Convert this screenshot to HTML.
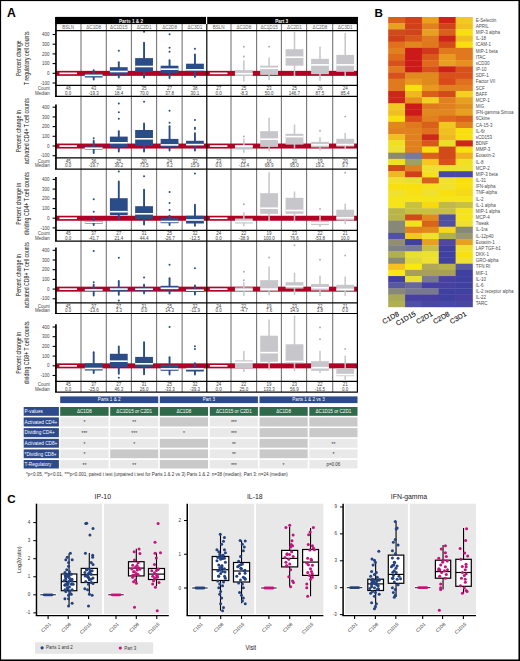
<!DOCTYPE html>
<html><head><meta charset="utf-8"><title>Figure</title>
<style>html,body{margin:0;padding:0;background:#fff;width:520px;height:661px;overflow:hidden}svg{display:block}</style>
</head><body>
<svg width="520" height="661" viewBox="0 0 520 661" font-family='"Liberation Sans", sans-serif'>
<rect x="0" y="0" width="520" height="661" fill="#fff" />
<text x="7" y="17.3" font-size="12.2" fill="#000" text-anchor="start" font-weight="bold" >A</text>
<text x="374.6" y="17.1" font-size="11.6" fill="#000" text-anchor="start" font-weight="bold" >B</text>
<text x="7.2" y="503.4" font-size="11.6" fill="#000" text-anchor="start" font-weight="bold" >C</text>
<rect x="55.5" y="16.9" width="150.5" height="7.2" fill="#000" />
<rect x="207.2" y="16.9" width="150.4" height="7.2" fill="#000" />
<text x="131" y="22.8" font-size="4.7" fill="#f4f4f4" text-anchor="middle" font-weight="bold" >Parts 1 &amp; 2</text>
<text x="281.7" y="22.8" font-size="4.7" fill="#f4f4f4" text-anchor="middle" font-weight="bold" >Part 3</text>
<text x="68.2" y="29" font-size="4.6" fill="#666" text-anchor="middle" font-weight="normal" >BSLN</text>
<text x="218.65" y="29" font-size="4.6" fill="#666" text-anchor="middle" font-weight="normal" >BSLN</text>
<text x="93.7" y="29" font-size="4.6" fill="#666" text-anchor="middle" font-weight="normal" >ΔC1D8</text>
<text x="243.85" y="29" font-size="4.6" fill="#666" text-anchor="middle" font-weight="normal" >ΔC1D8</text>
<text x="118.8" y="29" font-size="4.6" fill="#666" text-anchor="middle" font-weight="normal" >ΔC1D15</text>
<text x="269.1" y="29" font-size="4.6" fill="#666" text-anchor="middle" font-weight="normal" >ΔC1D15</text>
<text x="144.05" y="29" font-size="4.6" fill="#666" text-anchor="middle" font-weight="normal" >ΔC2D1</text>
<text x="294.5" y="29" font-size="4.6" fill="#666" text-anchor="middle" font-weight="normal" >ΔC2D1</text>
<text x="169.55" y="29" font-size="4.6" fill="#666" text-anchor="middle" font-weight="normal" >ΔC2D8</text>
<text x="320" y="29" font-size="4.6" fill="#666" text-anchor="middle" font-weight="normal" >ΔC2D8</text>
<text x="194.95" y="29" font-size="4.6" fill="#666" text-anchor="middle" font-weight="normal" >ΔC3D1</text>
<text x="345.2" y="29" font-size="4.6" fill="#666" text-anchor="middle" font-weight="normal" >ΔC3D1</text>
<line x1="81" y1="24.1" x2="81" y2="392.1" stroke="#767676" stroke-width="1.1" />
<line x1="106.3" y1="24.1" x2="106.3" y2="392.1" stroke="#767676" stroke-width="1.1" />
<line x1="131.4" y1="24.1" x2="131.4" y2="392.1" stroke="#767676" stroke-width="1.1" />
<line x1="156.6" y1="24.1" x2="156.6" y2="392.1" stroke="#767676" stroke-width="1.1" />
<line x1="182.15" y1="24.1" x2="182.15" y2="392.1" stroke="#767676" stroke-width="1.1" />
<line x1="231" y1="24.1" x2="231" y2="392.1" stroke="#767676" stroke-width="1.1" />
<line x1="256.6" y1="24.1" x2="256.6" y2="392.1" stroke="#767676" stroke-width="1.1" />
<line x1="281.4" y1="24.1" x2="281.4" y2="392.1" stroke="#767676" stroke-width="1.1" />
<line x1="306.6" y1="24.1" x2="306.6" y2="392.1" stroke="#767676" stroke-width="1.1" />
<line x1="332.7" y1="24.1" x2="332.7" y2="392.1" stroke="#767676" stroke-width="1.1" />
<rect x="55.5" y="70.85" width="301.9" height="5" fill="#b00224" />
<rect x="55.5" y="143.55" width="301.9" height="5" fill="#b00224" />
<rect x="55.5" y="215.75" width="301.9" height="5" fill="#b00224" />
<rect x="55.5" y="286.65" width="301.9" height="5" fill="#b00224" />
<rect x="55.5" y="363.35" width="301.9" height="5" fill="#b00224" />
<rect x="59.4" y="72.5" width="17.6" height="1.7" fill="#fff" />
<rect x="209.85" y="72.5" width="17.6" height="1.7" fill="#fff" />
<line x1="93.7" y1="70.3" x2="93.7" y2="79.5" stroke="#2b4d87" stroke-width="1.9" stroke-linecap="round"/>
<rect x="84.8" y="73.4" width="17.8" height="4.1" fill="#2b4d87" />
<rect x="84.8" y="74.6" width="17.8" height="1.6" fill="#fff" />
<line x1="118.8" y1="62.2" x2="118.8" y2="77.5" stroke="#2b4d87" stroke-width="1.9" stroke-linecap="round"/>
<rect x="109.9" y="67.2" width="17.8" height="7.3" fill="#2b4d87" />
<rect x="109.9" y="70.7" width="17.8" height="1.6" fill="#fff" />
<circle cx="118.8" cy="50.8" r="1" fill="#2b4d87"/>
<line x1="144.05" y1="42.6" x2="144.05" y2="77.5" stroke="#2b4d87" stroke-width="1.9" stroke-linecap="round"/>
<rect x="135.15" y="58.1" width="17.8" height="13.7" fill="#2b4d87" />
<rect x="135.15" y="65.7" width="17.8" height="1.6" fill="#fff" />
<circle cx="144.05" cy="31.8" r="1" fill="#2b4d87"/>
<line x1="169.55" y1="60.3" x2="169.55" y2="78" stroke="#2b4d87" stroke-width="1.9" stroke-linecap="round"/>
<rect x="160.65" y="65.7" width="17.8" height="7.2" fill="#2b4d87" />
<rect x="160.65" y="68.4" width="17.8" height="1.6" fill="#fff" />
<circle cx="169.55" cy="34.2" r="1" fill="#2b4d87"/>
<circle cx="169.55" cy="47.7" r="1" fill="#2b4d87"/>
<circle cx="169.55" cy="51.8" r="1" fill="#2b4d87"/>
<line x1="194.95" y1="54.5" x2="194.95" y2="76.9" stroke="#2b4d87" stroke-width="1.9" stroke-linecap="round"/>
<rect x="186.05" y="63.7" width="17.8" height="7.8" fill="#2b4d87" />
<rect x="186.05" y="69" width="17.8" height="1.6" fill="#fff" />
<circle cx="194.95" cy="48.8" r="1" fill="#2b4d87"/>
<line x1="243.85" y1="61.1" x2="243.85" y2="81.1" stroke="#c6c6cb" stroke-width="1.5" stroke-linecap="round"/>
<rect x="234.95" y="70.3" width="17.8" height="5.7" fill="#c6c6cb" />
<rect x="234.95" y="72.9" width="17.8" height="1.6" fill="#fff" />
<circle cx="243.85" cy="46.8" r="0.95" fill="#acacb3"/>
<circle cx="243.85" cy="56.5" r="0.95" fill="#acacb3"/>
<line x1="269.1" y1="58" x2="269.1" y2="79.5" stroke="#c6c6cb" stroke-width="1.5" stroke-linecap="round"/>
<rect x="260.2" y="65.7" width="17.8" height="9.2" fill="#c6c6cb" />
<rect x="260.2" y="67.5" width="17.8" height="1.6" fill="#fff" />
<circle cx="269.1" cy="46.8" r="0.95" fill="#acacb3"/>
<circle cx="269.1" cy="30.3" r="0.95" fill="#acacb3"/>
<line x1="294.5" y1="32.6" x2="294.5" y2="75.7" stroke="#c6c6cb" stroke-width="1.5" stroke-linecap="round"/>
<rect x="285.6" y="49.2" width="17.8" height="16.5" fill="#c6c6cb" />
<rect x="285.6" y="56.4" width="17.8" height="1.6" fill="#fff" />
<line x1="320" y1="47.2" x2="320" y2="80.3" stroke="#c6c6cb" stroke-width="1.5" stroke-linecap="round"/>
<rect x="311.1" y="58.8" width="17.8" height="15.4" fill="#c6c6cb" />
<rect x="311.1" y="64.1" width="17.8" height="1.6" fill="#fff" />
<line x1="345.2" y1="33.4" x2="345.2" y2="76" stroke="#c6c6cb" stroke-width="1.5" stroke-linecap="round"/>
<rect x="336.3" y="54.9" width="17.8" height="16.9" fill="#c6c6cb" />
<rect x="336.3" y="64.1" width="17.8" height="1.6" fill="#fff" />
<line x1="55.95" y1="31" x2="55.95" y2="85.4" stroke="#000" stroke-width="1.7" />
<line x1="52.6" y1="34.5" x2="55.6" y2="34.5" stroke="#000" stroke-width="1.1" />
<text x="49.6" y="36.1" font-size="4.5" fill="#444" text-anchor="end" font-weight="normal" >400</text>
<line x1="52.6" y1="44.2" x2="55.6" y2="44.2" stroke="#000" stroke-width="1.1" />
<text x="49.6" y="45.8" font-size="4.5" fill="#444" text-anchor="end" font-weight="normal" >300</text>
<line x1="52.6" y1="53.9" x2="55.6" y2="53.9" stroke="#000" stroke-width="1.1" />
<text x="49.6" y="55.5" font-size="4.5" fill="#444" text-anchor="end" font-weight="normal" >200</text>
<line x1="52.6" y1="63.6" x2="55.6" y2="63.6" stroke="#000" stroke-width="1.1" />
<text x="49.6" y="65.2" font-size="4.5" fill="#444" text-anchor="end" font-weight="normal" >100</text>
<line x1="52.6" y1="73.3" x2="55.6" y2="73.3" stroke="#000" stroke-width="1.1" />
<text x="49.6" y="74.9" font-size="4.5" fill="#444" text-anchor="end" font-weight="normal" >0</text>
<line x1="52.6" y1="83" x2="55.6" y2="83" stroke="#000" stroke-width="1.1" />
<text x="49.6" y="84.6" font-size="4.5" fill="#444" text-anchor="end" font-weight="normal" >-100</text>
<line x1="55" y1="85.4" x2="357.9" y2="85.4" stroke="#000" stroke-width="1.2" />
<line x1="55" y1="96.3" x2="357.9" y2="96.3" stroke="#000" stroke-width="1.2" />
<line x1="55.95" y1="85.4" x2="55.95" y2="96.3" stroke="#000" stroke-width="1.7" />
<text x="49.8" y="90.1" font-size="4.5" fill="#444" text-anchor="end" font-weight="normal" >Count</text>
<text x="49.8" y="94.9" font-size="4.5" fill="#444" text-anchor="end" font-weight="normal" >Median</text>
<text x="68.2" y="90.1" font-size="4.5" fill="#444" text-anchor="middle" font-weight="normal" >48</text>
<text x="68.2" y="94.9" font-size="4.5" fill="#444" text-anchor="middle" font-weight="normal" >0.0</text>
<text x="218.65" y="90.1" font-size="4.5" fill="#444" text-anchor="middle" font-weight="normal" >27</text>
<text x="218.65" y="94.9" font-size="4.5" fill="#444" text-anchor="middle" font-weight="normal" >0.0</text>
<text x="93.7" y="90.1" font-size="4.5" fill="#444" text-anchor="middle" font-weight="normal" >43</text>
<text x="93.7" y="94.9" font-size="4.5" fill="#444" text-anchor="middle" font-weight="normal" >-19.3</text>
<text x="243.85" y="90.1" font-size="4.5" fill="#444" text-anchor="middle" font-weight="normal" >25</text>
<text x="243.85" y="94.9" font-size="4.5" fill="#444" text-anchor="middle" font-weight="normal" >-8.3</text>
<text x="118.8" y="90.1" font-size="4.5" fill="#444" text-anchor="middle" font-weight="normal" >30</text>
<text x="118.8" y="94.9" font-size="4.5" fill="#444" text-anchor="middle" font-weight="normal" >18.4</text>
<text x="269.1" y="90.1" font-size="4.5" fill="#444" text-anchor="middle" font-weight="normal" >23</text>
<text x="269.1" y="94.9" font-size="4.5" fill="#444" text-anchor="middle" font-weight="normal" >50.0</text>
<text x="144.05" y="90.1" font-size="4.5" fill="#444" text-anchor="middle" font-weight="normal" >35</text>
<text x="144.05" y="94.9" font-size="4.5" fill="#444" text-anchor="middle" font-weight="normal" >70.0</text>
<text x="294.5" y="90.1" font-size="4.5" fill="#444" text-anchor="middle" font-weight="normal" >25</text>
<text x="294.5" y="94.9" font-size="4.5" fill="#444" text-anchor="middle" font-weight="normal" >146.7</text>
<text x="169.55" y="90.1" font-size="4.5" fill="#444" text-anchor="middle" font-weight="normal" >27</text>
<text x="169.55" y="94.9" font-size="4.5" fill="#444" text-anchor="middle" font-weight="normal" >37.8</text>
<text x="320" y="90.1" font-size="4.5" fill="#444" text-anchor="middle" font-weight="normal" >26</text>
<text x="320" y="94.9" font-size="4.5" fill="#444" text-anchor="middle" font-weight="normal" >87.5</text>
<text x="194.95" y="90.1" font-size="4.5" fill="#444" text-anchor="middle" font-weight="normal" >38</text>
<text x="194.95" y="94.9" font-size="4.5" fill="#444" text-anchor="middle" font-weight="normal" >30.1</text>
<text x="345.2" y="90.1" font-size="4.5" fill="#444" text-anchor="middle" font-weight="normal" >24</text>
<text x="345.2" y="94.9" font-size="4.5" fill="#444" text-anchor="middle" font-weight="normal" >85.4</text>
<text transform="translate(20.8 58.2) rotate(-90)" font-size="6.4" fill="#111" text-anchor="middle" textLength="35.7" lengthAdjust="spacingAndGlyphs">Percent change</text>
<text transform="translate(29.2 58.2) rotate(-90)" font-size="6.4" fill="#111" text-anchor="middle" textLength="53.4" lengthAdjust="spacingAndGlyphs">T regulatory cell counts</text>
<rect x="59.4" y="145.2" width="17.6" height="1.7" fill="#fff" />
<rect x="209.85" y="145.2" width="17.6" height="1.7" fill="#fff" />
<line x1="93.7" y1="140.8" x2="93.7" y2="153.1" stroke="#2b4d87" stroke-width="1.9" stroke-linecap="round"/>
<rect x="84.8" y="146.5" width="17.8" height="3" fill="#2b4d87" />
<rect x="84.8" y="147.4" width="17.8" height="1.6" fill="#fff" />
<circle cx="93.7" cy="138.2" r="1" fill="#2b4d87"/>
<line x1="118.8" y1="131.2" x2="118.8" y2="151.5" stroke="#2b4d87" stroke-width="1.9" stroke-linecap="round"/>
<rect x="109.9" y="136.6" width="17.8" height="10.3" fill="#2b4d87" />
<rect x="109.9" y="142" width="17.8" height="1.6" fill="#fff" />
<circle cx="118.8" cy="103.4" r="1" fill="#2b4d87"/>
<circle cx="118.8" cy="112.3" r="1" fill="#2b4d87"/>
<circle cx="118.8" cy="118.8" r="1" fill="#2b4d87"/>
<line x1="144.05" y1="123.5" x2="144.05" y2="151.5" stroke="#2b4d87" stroke-width="1.9" stroke-linecap="round"/>
<rect x="135.15" y="130" width="17.8" height="15.8" fill="#2b4d87" />
<rect x="135.15" y="138" width="17.8" height="1.6" fill="#fff" />
<circle cx="144.05" cy="101.8" r="1" fill="#2b4d87"/>
<line x1="169.55" y1="126.2" x2="169.55" y2="150.5" stroke="#2b4d87" stroke-width="1.9" stroke-linecap="round"/>
<rect x="160.65" y="138.9" width="17.8" height="8" fill="#2b4d87" />
<rect x="160.65" y="144.1" width="17.8" height="1.6" fill="#fff" />
<circle cx="169.55" cy="110.8" r="1" fill="#2b4d87"/>
<circle cx="169.55" cy="122.8" r="1" fill="#2b4d87"/>
<line x1="194.95" y1="133.1" x2="194.95" y2="150.5" stroke="#2b4d87" stroke-width="1.9" stroke-linecap="round"/>
<rect x="186.05" y="140.8" width="17.8" height="5.4" fill="#2b4d87" />
<rect x="186.05" y="143.8" width="17.8" height="1.6" fill="#fff" />
<circle cx="194.95" cy="120" r="1" fill="#2b4d87"/>
<circle cx="194.95" cy="127.7" r="1" fill="#2b4d87"/>
<circle cx="194.95" cy="128.9" r="1" fill="#2b4d87"/>
<line x1="243.85" y1="139.2" x2="243.85" y2="152.3" stroke="#c6c6cb" stroke-width="1.5" stroke-linecap="round"/>
<rect x="234.95" y="144.9" width="17.8" height="4.6" fill="#c6c6cb" />
<rect x="234.95" y="145.4" width="17.8" height="1.6" fill="#fff" />
<circle cx="243.85" cy="136.5" r="0.95" fill="#acacb3"/>
<line x1="269.1" y1="118.2" x2="269.1" y2="150.8" stroke="#c6c6cb" stroke-width="1.5" stroke-linecap="round"/>
<rect x="260.2" y="131.2" width="17.8" height="15.7" fill="#c6c6cb" />
<rect x="260.2" y="138.4" width="17.8" height="1.6" fill="#fff" />
<line x1="294.5" y1="124.9" x2="294.5" y2="147.7" stroke="#c6c6cb" stroke-width="1.5" stroke-linecap="round"/>
<rect x="285.6" y="133.8" width="17.8" height="10.8" fill="#c6c6cb" />
<rect x="285.6" y="135.8" width="17.8" height="1.6" fill="#fff" />
<line x1="320" y1="137.7" x2="320" y2="150" stroke="#c6c6cb" stroke-width="1.5" stroke-linecap="round"/>
<rect x="311.1" y="141.8" width="17.8" height="5.6" fill="#c6c6cb" />
<rect x="311.1" y="144.1" width="17.8" height="1.6" fill="#fff" />
<circle cx="320" cy="130.8" r="0.95" fill="#acacb3"/>
<line x1="345.2" y1="133.5" x2="345.2" y2="148.9" stroke="#c6c6cb" stroke-width="1.5" stroke-linecap="round"/>
<rect x="336.3" y="138.8" width="17.8" height="7.7" fill="#c6c6cb" />
<rect x="336.3" y="143.8" width="17.8" height="1.6" fill="#fff" />
<circle cx="345.2" cy="116.6" r="0.95" fill="#acacb3"/>
<line x1="55.95" y1="104.5" x2="55.95" y2="157.8" stroke="#000" stroke-width="1.7" />
<line x1="52.6" y1="107.2" x2="55.6" y2="107.2" stroke="#000" stroke-width="1.1" />
<text x="49.6" y="108.8" font-size="4.5" fill="#444" text-anchor="end" font-weight="normal" >400</text>
<line x1="52.6" y1="116.9" x2="55.6" y2="116.9" stroke="#000" stroke-width="1.1" />
<text x="49.6" y="118.5" font-size="4.5" fill="#444" text-anchor="end" font-weight="normal" >300</text>
<line x1="52.6" y1="126.6" x2="55.6" y2="126.6" stroke="#000" stroke-width="1.1" />
<text x="49.6" y="128.2" font-size="4.5" fill="#444" text-anchor="end" font-weight="normal" >200</text>
<line x1="52.6" y1="136.3" x2="55.6" y2="136.3" stroke="#000" stroke-width="1.1" />
<text x="49.6" y="137.9" font-size="4.5" fill="#444" text-anchor="end" font-weight="normal" >100</text>
<line x1="52.6" y1="146" x2="55.6" y2="146" stroke="#000" stroke-width="1.1" />
<text x="49.6" y="147.6" font-size="4.5" fill="#444" text-anchor="end" font-weight="normal" >0</text>
<line x1="52.6" y1="155.7" x2="55.6" y2="155.7" stroke="#000" stroke-width="1.1" />
<text x="49.6" y="157.3" font-size="4.5" fill="#444" text-anchor="end" font-weight="normal" >-100</text>
<line x1="55" y1="157.8" x2="357.9" y2="157.8" stroke="#000" stroke-width="1.2" />
<line x1="55" y1="169.1" x2="357.9" y2="169.1" stroke="#000" stroke-width="1.2" />
<line x1="55.95" y1="157.8" x2="55.95" y2="169.1" stroke="#000" stroke-width="1.7" />
<text x="49.8" y="162.5" font-size="4.5" fill="#444" text-anchor="end" font-weight="normal" >Count</text>
<text x="49.8" y="167.3" font-size="4.5" fill="#444" text-anchor="end" font-weight="normal" >Median</text>
<text x="68.2" y="162.5" font-size="4.5" fill="#444" text-anchor="middle" font-weight="normal" >45</text>
<text x="68.2" y="167.3" font-size="4.5" fill="#444" text-anchor="middle" font-weight="normal" >0.0</text>
<text x="218.65" y="162.5" font-size="4.5" fill="#444" text-anchor="middle" font-weight="normal" >23</text>
<text x="218.65" y="167.3" font-size="4.5" fill="#444" text-anchor="middle" font-weight="normal" >0.0</text>
<text x="93.7" y="162.5" font-size="4.5" fill="#444" text-anchor="middle" font-weight="normal" >36</text>
<text x="93.7" y="167.3" font-size="4.5" fill="#444" text-anchor="middle" font-weight="normal" >-19.7</text>
<text x="243.85" y="162.5" font-size="4.5" fill="#444" text-anchor="middle" font-weight="normal" >21</text>
<text x="243.85" y="167.3" font-size="4.5" fill="#444" text-anchor="middle" font-weight="normal" >-13.4</text>
<text x="118.8" y="162.5" font-size="4.5" fill="#444" text-anchor="middle" font-weight="normal" >25</text>
<text x="118.8" y="167.3" font-size="4.5" fill="#444" text-anchor="middle" font-weight="normal" >36.2</text>
<text x="269.1" y="162.5" font-size="4.5" fill="#444" text-anchor="middle" font-weight="normal" >16</text>
<text x="269.1" y="167.3" font-size="4.5" fill="#444" text-anchor="middle" font-weight="normal" >68.9</text>
<text x="144.05" y="162.5" font-size="4.5" fill="#444" text-anchor="middle" font-weight="normal" >20</text>
<text x="144.05" y="167.3" font-size="4.5" fill="#444" text-anchor="middle" font-weight="normal" >73.5</text>
<text x="294.5" y="162.5" font-size="4.5" fill="#444" text-anchor="middle" font-weight="normal" >20</text>
<text x="294.5" y="167.3" font-size="4.5" fill="#444" text-anchor="middle" font-weight="normal" >95.0</text>
<text x="169.55" y="162.5" font-size="4.5" fill="#444" text-anchor="middle" font-weight="normal" >24</text>
<text x="169.55" y="167.3" font-size="4.5" fill="#444" text-anchor="middle" font-weight="normal" >9.2</text>
<text x="320" y="162.5" font-size="4.5" fill="#444" text-anchor="middle" font-weight="normal" >19</text>
<text x="320" y="167.3" font-size="4.5" fill="#444" text-anchor="middle" font-weight="normal" >19.2</text>
<text x="194.95" y="162.5" font-size="4.5" fill="#444" text-anchor="middle" font-weight="normal" >32</text>
<text x="194.95" y="167.3" font-size="4.5" fill="#444" text-anchor="middle" font-weight="normal" >15.9</text>
<text x="345.2" y="162.5" font-size="4.5" fill="#444" text-anchor="middle" font-weight="normal" >20</text>
<text x="345.2" y="167.3" font-size="4.5" fill="#444" text-anchor="middle" font-weight="normal" >9.7</text>
<text transform="translate(20.8 131.15) rotate(-90)" font-size="6.4" fill="#111" text-anchor="middle" textLength="42" lengthAdjust="spacingAndGlyphs">Percent change in</text>
<text transform="translate(29.2 131.15) rotate(-90)" font-size="6.4" fill="#111" text-anchor="middle" textLength="66" lengthAdjust="spacingAndGlyphs">activated CD4+ T cell counts</text>
<rect x="59.4" y="217.4" width="17.6" height="1.7" fill="#fff" />
<rect x="209.85" y="217.4" width="17.6" height="1.7" fill="#fff" />
<line x1="93.7" y1="218.2" x2="93.7" y2="225.1" stroke="#2b4d87" stroke-width="1.9" stroke-linecap="round"/>
<rect x="84.8" y="221" width="17.8" height="2.5" fill="#2b4d87" />
<rect x="84.8" y="221.4" width="17.8" height="1.6" fill="#fff" />
<circle cx="93.7" cy="199.2" r="1" fill="#2b4d87"/>
<circle cx="93.7" cy="211.7" r="1" fill="#2b4d87"/>
<line x1="118.8" y1="181.5" x2="118.8" y2="218.9" stroke="#2b4d87" stroke-width="1.9" stroke-linecap="round"/>
<rect x="109.9" y="198.2" width="17.8" height="16.9" fill="#2b4d87" />
<rect x="109.9" y="210.9" width="17.8" height="1.6" fill="#fff" />
<circle cx="118.8" cy="171.6" r="1" fill="#2b4d87"/>
<line x1="144.05" y1="189.7" x2="144.05" y2="224.6" stroke="#2b4d87" stroke-width="1.9" stroke-linecap="round"/>
<rect x="135.15" y="206.2" width="17.8" height="12.7" fill="#2b4d87" />
<rect x="135.15" y="213" width="17.8" height="1.6" fill="#fff" />
<circle cx="144.05" cy="176.3" r="1" fill="#2b4d87"/>
<line x1="169.55" y1="215.8" x2="169.55" y2="225.1" stroke="#2b4d87" stroke-width="1.9" stroke-linecap="round"/>
<rect x="160.65" y="218.2" width="17.8" height="5" fill="#2b4d87" />
<rect x="160.65" y="220.7" width="17.8" height="1.6" fill="#fff" />
<circle cx="169.55" cy="192" r="1" fill="#2b4d87"/>
<circle cx="169.55" cy="203.1" r="1" fill="#2b4d87"/>
<circle cx="169.55" cy="210" r="1" fill="#2b4d87"/>
<line x1="194.95" y1="204.6" x2="194.95" y2="225.8" stroke="#2b4d87" stroke-width="1.9" stroke-linecap="round"/>
<rect x="186.05" y="215.8" width="17.8" height="7.7" fill="#2b4d87" />
<rect x="186.05" y="219.2" width="17.8" height="1.6" fill="#fff" />
<circle cx="194.95" cy="173.5" r="1" fill="#2b4d87"/>
<line x1="243.85" y1="212.8" x2="243.85" y2="225.8" stroke="#c6c6cb" stroke-width="1.5" stroke-linecap="round"/>
<rect x="234.95" y="218.5" width="17.8" height="5" fill="#c6c6cb" />
<rect x="234.95" y="220.7" width="17.8" height="1.6" fill="#fff" />
<circle cx="243.85" cy="204.3" r="0.95" fill="#acacb3"/>
<line x1="269.1" y1="172.8" x2="269.1" y2="220.9" stroke="#c6c6cb" stroke-width="1.5" stroke-linecap="round"/>
<rect x="260.2" y="193.2" width="17.8" height="20.6" fill="#c6c6cb" />
<rect x="260.2" y="207.4" width="17.8" height="1.6" fill="#fff" />
<line x1="294.5" y1="192" x2="294.5" y2="221.2" stroke="#c6c6cb" stroke-width="1.5" stroke-linecap="round"/>
<rect x="285.6" y="197.8" width="17.8" height="16" fill="#c6c6cb" />
<rect x="285.6" y="209.7" width="17.8" height="1.6" fill="#fff" />
<line x1="320" y1="215.8" x2="320" y2="226.2" stroke="#c6c6cb" stroke-width="1.5" stroke-linecap="round"/>
<rect x="311.1" y="220.9" width="17.8" height="4.2" fill="#c6c6cb" />
<rect x="311.1" y="222.2" width="17.8" height="1.6" fill="#fff" />
<circle cx="320" cy="208.9" r="0.95" fill="#acacb3"/>
<line x1="345.2" y1="204.3" x2="345.2" y2="223.5" stroke="#c6c6cb" stroke-width="1.5" stroke-linecap="round"/>
<rect x="336.3" y="209.7" width="17.8" height="10.8" fill="#c6c6cb" />
<rect x="336.3" y="217" width="17.8" height="1.6" fill="#fff" />
<circle cx="345.2" cy="172.8" r="0.95" fill="#acacb3"/>
<line x1="55.95" y1="177" x2="55.95" y2="230.3" stroke="#000" stroke-width="1.7" />
<line x1="52.6" y1="179.4" x2="55.6" y2="179.4" stroke="#000" stroke-width="1.1" />
<text x="49.6" y="181" font-size="4.5" fill="#444" text-anchor="end" font-weight="normal" >400</text>
<line x1="52.6" y1="189.1" x2="55.6" y2="189.1" stroke="#000" stroke-width="1.1" />
<text x="49.6" y="190.7" font-size="4.5" fill="#444" text-anchor="end" font-weight="normal" >300</text>
<line x1="52.6" y1="198.8" x2="55.6" y2="198.8" stroke="#000" stroke-width="1.1" />
<text x="49.6" y="200.4" font-size="4.5" fill="#444" text-anchor="end" font-weight="normal" >200</text>
<line x1="52.6" y1="208.5" x2="55.6" y2="208.5" stroke="#000" stroke-width="1.1" />
<text x="49.6" y="210.1" font-size="4.5" fill="#444" text-anchor="end" font-weight="normal" >100</text>
<line x1="52.6" y1="218.2" x2="55.6" y2="218.2" stroke="#000" stroke-width="1.1" />
<text x="49.6" y="219.8" font-size="4.5" fill="#444" text-anchor="end" font-weight="normal" >0</text>
<line x1="52.6" y1="227.9" x2="55.6" y2="227.9" stroke="#000" stroke-width="1.1" />
<text x="49.6" y="229.5" font-size="4.5" fill="#444" text-anchor="end" font-weight="normal" >-100</text>
<line x1="55" y1="230.3" x2="357.9" y2="230.3" stroke="#000" stroke-width="1.2" />
<line x1="55" y1="241.1" x2="357.9" y2="241.1" stroke="#000" stroke-width="1.2" />
<line x1="55.95" y1="230.3" x2="55.95" y2="241.1" stroke="#000" stroke-width="1.7" />
<text x="49.8" y="235" font-size="4.5" fill="#444" text-anchor="end" font-weight="normal" >Count</text>
<text x="49.8" y="239.8" font-size="4.5" fill="#444" text-anchor="end" font-weight="normal" >Median</text>
<text x="68.2" y="235" font-size="4.5" fill="#444" text-anchor="middle" font-weight="normal" >45</text>
<text x="68.2" y="239.8" font-size="4.5" fill="#444" text-anchor="middle" font-weight="normal" >0.0</text>
<text x="218.65" y="235" font-size="4.5" fill="#444" text-anchor="middle" font-weight="normal" >24</text>
<text x="218.65" y="239.8" font-size="4.5" fill="#444" text-anchor="middle" font-weight="normal" >0.0</text>
<text x="93.7" y="235" font-size="4.5" fill="#444" text-anchor="middle" font-weight="normal" >37</text>
<text x="93.7" y="239.8" font-size="4.5" fill="#444" text-anchor="middle" font-weight="normal" >-41.7</text>
<text x="243.85" y="235" font-size="4.5" fill="#444" text-anchor="middle" font-weight="normal" >22</text>
<text x="243.85" y="239.8" font-size="4.5" fill="#444" text-anchor="middle" font-weight="normal" >-38.9</text>
<text x="118.8" y="235" font-size="4.5" fill="#444" text-anchor="middle" font-weight="normal" >27</text>
<text x="118.8" y="239.8" font-size="4.5" fill="#444" text-anchor="middle" font-weight="normal" >21.4</text>
<text x="269.1" y="235" font-size="4.5" fill="#444" text-anchor="middle" font-weight="normal" >19</text>
<text x="269.1" y="239.8" font-size="4.5" fill="#444" text-anchor="middle" font-weight="normal" >100.0</text>
<text x="144.05" y="235" font-size="4.5" fill="#444" text-anchor="middle" font-weight="normal" >31</text>
<text x="144.05" y="239.8" font-size="4.5" fill="#444" text-anchor="middle" font-weight="normal" >44.4</text>
<text x="294.5" y="235" font-size="4.5" fill="#444" text-anchor="middle" font-weight="normal" >23</text>
<text x="294.5" y="239.8" font-size="4.5" fill="#444" text-anchor="middle" font-weight="normal" >76.6</text>
<text x="169.55" y="235" font-size="4.5" fill="#444" text-anchor="middle" font-weight="normal" >25</text>
<text x="169.55" y="239.8" font-size="4.5" fill="#444" text-anchor="middle" font-weight="normal" >-26.7</text>
<text x="320" y="235" font-size="4.5" fill="#444" text-anchor="middle" font-weight="normal" >22</text>
<text x="320" y="239.8" font-size="4.5" fill="#444" text-anchor="middle" font-weight="normal" >-53.8</text>
<text x="194.95" y="235" font-size="4.5" fill="#444" text-anchor="middle" font-weight="normal" >32</text>
<text x="194.95" y="239.8" font-size="4.5" fill="#444" text-anchor="middle" font-weight="normal" >-12.5</text>
<text x="345.2" y="235" font-size="4.5" fill="#444" text-anchor="middle" font-weight="normal" >21</text>
<text x="345.2" y="239.8" font-size="4.5" fill="#444" text-anchor="middle" font-weight="normal" >10.0</text>
<text transform="translate(20.8 203.65) rotate(-90)" font-size="6.4" fill="#111" text-anchor="middle" textLength="42" lengthAdjust="spacingAndGlyphs">Percent change in</text>
<text transform="translate(29.2 203.65) rotate(-90)" font-size="6.4" fill="#111" text-anchor="middle" textLength="63" lengthAdjust="spacingAndGlyphs">dividing CD4+ T cell counts</text>
<rect x="59.4" y="288.3" width="17.6" height="1.7" fill="#fff" />
<rect x="209.85" y="288.3" width="17.6" height="1.7" fill="#fff" />
<line x1="93.7" y1="284.8" x2="93.7" y2="295.5" stroke="#2b4d87" stroke-width="1.9" stroke-linecap="round"/>
<rect x="84.8" y="288.7" width="17.8" height="2.3" fill="#2b4d87" />
<rect x="84.8" y="289.1" width="17.8" height="1.6" fill="#fff" />
<circle cx="93.7" cy="250.9" r="1" fill="#2b4d87"/>
<circle cx="93.7" cy="282.2" r="1" fill="#2b4d87"/>
<line x1="118.8" y1="280.9" x2="118.8" y2="294.8" stroke="#2b4d87" stroke-width="1.9" stroke-linecap="round"/>
<rect x="109.9" y="287.4" width="17.8" height="3.5" fill="#2b4d87" />
<rect x="109.9" y="288.3" width="17.8" height="1.6" fill="#fff" />
<circle cx="118.8" cy="257.8" r="1" fill="#2b4d87"/>
<circle cx="118.8" cy="300.6" r="1" fill="#2b4d87"/>
<line x1="144.05" y1="284.8" x2="144.05" y2="293.2" stroke="#2b4d87" stroke-width="1.9" stroke-linecap="round"/>
<rect x="135.15" y="287.8" width="17.8" height="2.8" fill="#2b4d87" />
<rect x="135.15" y="288.4" width="17.8" height="1.6" fill="#fff" />
<circle cx="144.05" cy="277.5" r="1" fill="#2b4d87"/>
<line x1="169.55" y1="278.2" x2="169.55" y2="293.5" stroke="#2b4d87" stroke-width="1.9" stroke-linecap="round"/>
<rect x="160.65" y="285.8" width="17.8" height="4.4" fill="#2b4d87" />
<rect x="160.65" y="287.5" width="17.8" height="1.6" fill="#fff" />
<circle cx="169.55" cy="264.8" r="1" fill="#2b4d87"/>
<line x1="194.95" y1="285.5" x2="194.95" y2="294.5" stroke="#2b4d87" stroke-width="1.9" stroke-linecap="round"/>
<rect x="186.05" y="288.6" width="17.8" height="3.1" fill="#2b4d87" />
<rect x="186.05" y="289.4" width="17.8" height="1.6" fill="#fff" />
<circle cx="194.95" cy="268.3" r="1" fill="#2b4d87"/>
<line x1="243.85" y1="282.8" x2="243.85" y2="295.5" stroke="#c6c6cb" stroke-width="1.5" stroke-linecap="round"/>
<rect x="234.95" y="287.4" width="17.8" height="4" fill="#c6c6cb" />
<rect x="234.95" y="288.7" width="17.8" height="1.6" fill="#fff" />
<circle cx="243.85" cy="271.7" r="0.95" fill="#acacb3"/>
<circle cx="243.85" cy="280.2" r="0.95" fill="#acacb3"/>
<line x1="269.1" y1="267.1" x2="269.1" y2="294.8" stroke="#c6c6cb" stroke-width="1.5" stroke-linecap="round"/>
<rect x="260.2" y="280.2" width="17.8" height="10.7" fill="#c6c6cb" />
<rect x="260.2" y="288.3" width="17.8" height="1.6" fill="#fff" />
<circle cx="269.1" cy="257.5" r="0.95" fill="#acacb3"/>
<line x1="294.5" y1="273.2" x2="294.5" y2="294.5" stroke="#c6c6cb" stroke-width="1.5" stroke-linecap="round"/>
<rect x="285.6" y="282.2" width="17.8" height="6.4" fill="#c6c6cb" />
<rect x="285.6" y="285.5" width="17.8" height="1.6" fill="#fff" />
<circle cx="294.5" cy="245.2" r="0.95" fill="#acacb3"/>
<line x1="320" y1="276.3" x2="320" y2="295.5" stroke="#c6c6cb" stroke-width="1.5" stroke-linecap="round"/>
<rect x="311.1" y="284" width="17.8" height="6.5" fill="#c6c6cb" />
<rect x="311.1" y="287" width="17.8" height="1.6" fill="#fff" />
<circle cx="320" cy="259.7" r="0.95" fill="#acacb3"/>
<line x1="345.2" y1="277.1" x2="345.2" y2="295.5" stroke="#c6c6cb" stroke-width="1.5" stroke-linecap="round"/>
<rect x="336.3" y="284.8" width="17.8" height="6.1" fill="#c6c6cb" />
<rect x="336.3" y="288.6" width="17.8" height="1.6" fill="#fff" />
<circle cx="345.2" cy="255.5" r="0.95" fill="#acacb3"/>
<line x1="55.95" y1="247.5" x2="55.95" y2="302.9" stroke="#000" stroke-width="1.7" />
<line x1="52.6" y1="250.3" x2="55.6" y2="250.3" stroke="#000" stroke-width="1.1" />
<text x="49.6" y="251.9" font-size="4.5" fill="#444" text-anchor="end" font-weight="normal" >400</text>
<line x1="52.6" y1="260" x2="55.6" y2="260" stroke="#000" stroke-width="1.1" />
<text x="49.6" y="261.6" font-size="4.5" fill="#444" text-anchor="end" font-weight="normal" >300</text>
<line x1="52.6" y1="269.7" x2="55.6" y2="269.7" stroke="#000" stroke-width="1.1" />
<text x="49.6" y="271.3" font-size="4.5" fill="#444" text-anchor="end" font-weight="normal" >200</text>
<line x1="52.6" y1="279.4" x2="55.6" y2="279.4" stroke="#000" stroke-width="1.1" />
<text x="49.6" y="281" font-size="4.5" fill="#444" text-anchor="end" font-weight="normal" >100</text>
<line x1="52.6" y1="289.1" x2="55.6" y2="289.1" stroke="#000" stroke-width="1.1" />
<text x="49.6" y="290.7" font-size="4.5" fill="#444" text-anchor="end" font-weight="normal" >0</text>
<line x1="52.6" y1="298.8" x2="55.6" y2="298.8" stroke="#000" stroke-width="1.1" />
<text x="49.6" y="300.4" font-size="4.5" fill="#444" text-anchor="end" font-weight="normal" >-100</text>
<line x1="55" y1="302.9" x2="357.9" y2="302.9" stroke="#000" stroke-width="1.2" />
<line x1="55" y1="313.5" x2="357.9" y2="313.5" stroke="#000" stroke-width="1.2" />
<line x1="55.95" y1="302.9" x2="55.95" y2="313.5" stroke="#000" stroke-width="1.7" />
<text x="49.8" y="307.6" font-size="4.5" fill="#444" text-anchor="end" font-weight="normal" >Count</text>
<text x="49.8" y="312.4" font-size="4.5" fill="#444" text-anchor="end" font-weight="normal" >Median</text>
<text x="68.2" y="307.6" font-size="4.5" fill="#444" text-anchor="middle" font-weight="normal" >45</text>
<text x="68.2" y="312.4" font-size="4.5" fill="#444" text-anchor="middle" font-weight="normal" >0.0</text>
<text x="218.65" y="307.6" font-size="4.5" fill="#444" text-anchor="middle" font-weight="normal" >24</text>
<text x="218.65" y="312.4" font-size="4.5" fill="#444" text-anchor="middle" font-weight="normal" >0.0</text>
<text x="93.7" y="307.6" font-size="4.5" fill="#444" text-anchor="middle" font-weight="normal" >37</text>
<text x="93.7" y="312.4" font-size="4.5" fill="#444" text-anchor="middle" font-weight="normal" >-13.6</text>
<text x="243.85" y="307.6" font-size="4.5" fill="#444" text-anchor="middle" font-weight="normal" >22</text>
<text x="243.85" y="312.4" font-size="4.5" fill="#444" text-anchor="middle" font-weight="normal" >-4.7</text>
<text x="118.8" y="307.6" font-size="4.5" fill="#444" text-anchor="middle" font-weight="normal" >27</text>
<text x="118.8" y="312.4" font-size="4.5" fill="#444" text-anchor="middle" font-weight="normal" >3.3</text>
<text x="269.1" y="307.6" font-size="4.5" fill="#444" text-anchor="middle" font-weight="normal" >19</text>
<text x="269.1" y="312.4" font-size="4.5" fill="#444" text-anchor="middle" font-weight="normal" >7.6</text>
<text x="144.05" y="307.6" font-size="4.5" fill="#444" text-anchor="middle" font-weight="normal" >31</text>
<text x="144.05" y="312.4" font-size="4.5" fill="#444" text-anchor="middle" font-weight="normal" >0.0</text>
<text x="294.5" y="307.6" font-size="4.5" fill="#444" text-anchor="middle" font-weight="normal" >23</text>
<text x="294.5" y="312.4" font-size="4.5" fill="#444" text-anchor="middle" font-weight="normal" >34.9</text>
<text x="169.55" y="307.6" font-size="4.5" fill="#444" text-anchor="middle" font-weight="normal" >25</text>
<text x="169.55" y="312.4" font-size="4.5" fill="#444" text-anchor="middle" font-weight="normal" >14.3</text>
<text x="320" y="307.6" font-size="4.5" fill="#444" text-anchor="middle" font-weight="normal" >22</text>
<text x="320" y="312.4" font-size="4.5" fill="#444" text-anchor="middle" font-weight="normal" >3.8</text>
<text x="194.95" y="307.6" font-size="4.5" fill="#444" text-anchor="middle" font-weight="normal" >32</text>
<text x="194.95" y="312.4" font-size="4.5" fill="#444" text-anchor="middle" font-weight="normal" >-11.9</text>
<text x="345.2" y="307.6" font-size="4.5" fill="#444" text-anchor="middle" font-weight="normal" >21</text>
<text x="345.2" y="312.4" font-size="4.5" fill="#444" text-anchor="middle" font-weight="normal" >0.0</text>
<text transform="translate(20.8 275.2) rotate(-90)" font-size="6.4" fill="#111" text-anchor="middle" textLength="42" lengthAdjust="spacingAndGlyphs">Percent change in</text>
<text transform="translate(29.2 275.2) rotate(-90)" font-size="6.4" fill="#111" text-anchor="middle" textLength="66" lengthAdjust="spacingAndGlyphs">activated CD8+ T cell counts</text>
<rect x="59.4" y="365" width="17.6" height="1.7" fill="#fff" />
<rect x="209.85" y="365" width="17.6" height="1.7" fill="#fff" />
<line x1="93.7" y1="352.3" x2="93.7" y2="373.1" stroke="#2b4d87" stroke-width="1.9" stroke-linecap="round"/>
<rect x="84.8" y="363.4" width="17.8" height="7.1" fill="#2b4d87" />
<rect x="84.8" y="367.7" width="17.8" height="1.6" fill="#fff" />
<line x1="118.8" y1="346.5" x2="118.8" y2="373.8" stroke="#2b4d87" stroke-width="1.9" stroke-linecap="round"/>
<rect x="109.9" y="353.8" width="17.8" height="13.1" fill="#2b4d87" />
<rect x="109.9" y="360.4" width="17.8" height="1.6" fill="#fff" />
<circle cx="118.8" cy="377.7" r="1" fill="#2b4d87"/>
<line x1="144.05" y1="342.3" x2="144.05" y2="374.2" stroke="#2b4d87" stroke-width="1.9" stroke-linecap="round"/>
<rect x="135.15" y="356.9" width="17.8" height="10" fill="#2b4d87" />
<rect x="135.15" y="363" width="17.8" height="1.6" fill="#fff" />
<line x1="169.55" y1="357.2" x2="169.55" y2="374.6" stroke="#2b4d87" stroke-width="1.9" stroke-linecap="round"/>
<rect x="160.65" y="364.9" width="17.8" height="5.9" fill="#2b4d87" />
<rect x="160.65" y="368.1" width="17.8" height="1.6" fill="#fff" />
<circle cx="169.55" cy="326.9" r="1" fill="#2b4d87"/>
<line x1="194.95" y1="363.1" x2="194.95" y2="374.6" stroke="#2b4d87" stroke-width="1.9" stroke-linecap="round"/>
<rect x="186.05" y="366.9" width="17.8" height="4.6" fill="#2b4d87" />
<rect x="186.05" y="368.1" width="17.8" height="1.6" fill="#fff" />
<circle cx="194.95" cy="346.2" r="1" fill="#2b4d87"/>
<circle cx="194.95" cy="348.9" r="1" fill="#2b4d87"/>
<line x1="243.85" y1="351.5" x2="243.85" y2="371.5" stroke="#c6c6cb" stroke-width="1.5" stroke-linecap="round"/>
<rect x="234.95" y="360.3" width="17.8" height="8.2" fill="#c6c6cb" />
<rect x="234.95" y="361.5" width="17.8" height="1.6" fill="#fff" />
<line x1="269.1" y1="320" x2="269.1" y2="369.2" stroke="#c6c6cb" stroke-width="1.5" stroke-linecap="round"/>
<rect x="260.2" y="335.7" width="17.8" height="26.1" fill="#c6c6cb" />
<rect x="260.2" y="351.8" width="17.8" height="1.6" fill="#fff" />
<line x1="294.5" y1="316.2" x2="294.5" y2="370.8" stroke="#c6c6cb" stroke-width="1.5" stroke-linecap="round"/>
<rect x="285.6" y="344.3" width="17.8" height="18.8" fill="#c6c6cb" />
<rect x="285.6" y="360.7" width="17.8" height="1.6" fill="#fff" />
<line x1="320" y1="351.5" x2="320" y2="372.3" stroke="#c6c6cb" stroke-width="1.5" stroke-linecap="round"/>
<rect x="311.1" y="361.2" width="17.8" height="9.6" fill="#c6c6cb" />
<rect x="311.1" y="366.9" width="17.8" height="1.6" fill="#fff" />
<circle cx="320" cy="327.4" r="0.95" fill="#acacb3"/>
<circle cx="320" cy="339.2" r="0.95" fill="#acacb3"/>
<line x1="345.2" y1="356.2" x2="345.2" y2="379.2" stroke="#c6c6cb" stroke-width="1.5" stroke-linecap="round"/>
<rect x="336.3" y="368.5" width="17.8" height="7.7" fill="#c6c6cb" />
<rect x="336.3" y="373.8" width="17.8" height="1.6" fill="#fff" />
<circle cx="345.2" cy="348.9" r="0.95" fill="#acacb3"/>
<line x1="55.95" y1="324.3" x2="55.95" y2="381.3" stroke="#000" stroke-width="1.7" />
<line x1="52.6" y1="327" x2="55.6" y2="327" stroke="#000" stroke-width="1.1" />
<text x="49.6" y="328.6" font-size="4.5" fill="#444" text-anchor="end" font-weight="normal" >400</text>
<line x1="52.6" y1="336.7" x2="55.6" y2="336.7" stroke="#000" stroke-width="1.1" />
<text x="49.6" y="338.3" font-size="4.5" fill="#444" text-anchor="end" font-weight="normal" >300</text>
<line x1="52.6" y1="346.4" x2="55.6" y2="346.4" stroke="#000" stroke-width="1.1" />
<text x="49.6" y="348" font-size="4.5" fill="#444" text-anchor="end" font-weight="normal" >200</text>
<line x1="52.6" y1="356.1" x2="55.6" y2="356.1" stroke="#000" stroke-width="1.1" />
<text x="49.6" y="357.7" font-size="4.5" fill="#444" text-anchor="end" font-weight="normal" >100</text>
<line x1="52.6" y1="365.8" x2="55.6" y2="365.8" stroke="#000" stroke-width="1.1" />
<text x="49.6" y="367.4" font-size="4.5" fill="#444" text-anchor="end" font-weight="normal" >0</text>
<line x1="52.6" y1="375.5" x2="55.6" y2="375.5" stroke="#000" stroke-width="1.1" />
<text x="49.6" y="377.1" font-size="4.5" fill="#444" text-anchor="end" font-weight="normal" >-100</text>
<line x1="55" y1="381.3" x2="357.9" y2="381.3" stroke="#000" stroke-width="1.2" />
<line x1="55" y1="392.1" x2="357.9" y2="392.1" stroke="#000" stroke-width="1.2" />
<line x1="55.95" y1="381.3" x2="55.95" y2="392.1" stroke="#000" stroke-width="1.7" />
<text x="49.8" y="386" font-size="4.5" fill="#444" text-anchor="end" font-weight="normal" >Count</text>
<text x="49.8" y="390.8" font-size="4.5" fill="#444" text-anchor="end" font-weight="normal" >Median</text>
<text x="68.2" y="386" font-size="4.5" fill="#444" text-anchor="middle" font-weight="normal" >45</text>
<text x="68.2" y="390.8" font-size="4.5" fill="#444" text-anchor="middle" font-weight="normal" >0.0</text>
<text x="218.65" y="386" font-size="4.5" fill="#444" text-anchor="middle" font-weight="normal" >24</text>
<text x="218.65" y="390.8" font-size="4.5" fill="#444" text-anchor="middle" font-weight="normal" >0.0</text>
<text x="93.7" y="386" font-size="4.5" fill="#444" text-anchor="middle" font-weight="normal" >37</text>
<text x="93.7" y="390.8" font-size="4.5" fill="#444" text-anchor="middle" font-weight="normal" >-25.0</text>
<text x="243.85" y="386" font-size="4.5" fill="#444" text-anchor="middle" font-weight="normal" >22</text>
<text x="243.85" y="390.8" font-size="4.5" fill="#444" text-anchor="middle" font-weight="normal" >25.0</text>
<text x="118.8" y="386" font-size="4.5" fill="#444" text-anchor="middle" font-weight="normal" >27</text>
<text x="118.8" y="390.8" font-size="4.5" fill="#444" text-anchor="middle" font-weight="normal" >46.3</text>
<text x="269.1" y="386" font-size="4.5" fill="#444" text-anchor="middle" font-weight="normal" >19</text>
<text x="269.1" y="390.8" font-size="4.5" fill="#444" text-anchor="middle" font-weight="normal" >133.3</text>
<text x="144.05" y="386" font-size="4.5" fill="#444" text-anchor="middle" font-weight="normal" >31</text>
<text x="144.05" y="390.8" font-size="4.5" fill="#444" text-anchor="middle" font-weight="normal" >26.0</text>
<text x="294.5" y="386" font-size="4.5" fill="#444" text-anchor="middle" font-weight="normal" >23</text>
<text x="294.5" y="390.8" font-size="4.5" fill="#444" text-anchor="middle" font-weight="normal" >56.9</text>
<text x="169.55" y="386" font-size="4.5" fill="#444" text-anchor="middle" font-weight="normal" >25</text>
<text x="169.55" y="390.8" font-size="4.5" fill="#444" text-anchor="middle" font-weight="normal" >-33.3</text>
<text x="320" y="386" font-size="4.5" fill="#444" text-anchor="middle" font-weight="normal" >22</text>
<text x="320" y="390.8" font-size="4.5" fill="#444" text-anchor="middle" font-weight="normal" >-16.5</text>
<text x="194.95" y="386" font-size="4.5" fill="#444" text-anchor="middle" font-weight="normal" >32</text>
<text x="194.95" y="390.8" font-size="4.5" fill="#444" text-anchor="middle" font-weight="normal" >-39.3</text>
<text x="345.2" y="386" font-size="4.5" fill="#444" text-anchor="middle" font-weight="normal" >21</text>
<text x="345.2" y="390.8" font-size="4.5" fill="#444" text-anchor="middle" font-weight="normal" >0.0</text>
<text transform="translate(20.8 352.8) rotate(-90)" font-size="6.4" fill="#111" text-anchor="middle" textLength="42" lengthAdjust="spacingAndGlyphs">Percent change in</text>
<text transform="translate(29.2 352.8) rotate(-90)" font-size="6.4" fill="#111" text-anchor="middle" textLength="63" lengthAdjust="spacingAndGlyphs">dividing CD8+ T cell counts</text>
<line x1="55" y1="30.6" x2="357.9" y2="30.6" stroke="#000" stroke-width="1.2" />
<line x1="206.8" y1="24" x2="206.8" y2="392.1" stroke="#000" stroke-width="1.2" />
<line x1="357.4" y1="16.9" x2="357.4" y2="392.1" stroke="#000" stroke-width="1.2" />
<line x1="55.95" y1="16.9" x2="55.95" y2="31" stroke="#000" stroke-width="1.7" />
<rect x="60.2" y="396.4" width="98" height="6.7" fill="#2c4a8c" />
<rect x="159.8" y="396.4" width="98.1" height="6.7" fill="#2c4a8c" />
<rect x="259.5" y="396.4" width="98" height="6.7" fill="#2c4a8c" />
<text x="109.2" y="401.4" font-size="4.6" fill="#fff" text-anchor="middle" font-weight="normal" >Parts 1 &amp; 2</text>
<text x="208.85" y="401.4" font-size="4.6" fill="#fff" text-anchor="middle" font-weight="normal" >Part 3</text>
<text x="308.5" y="401.4" font-size="4.6" fill="#fff" text-anchor="middle" font-weight="normal" >Parts 1 &amp; 2 vs 3</text>
<rect x="23.7" y="407" width="35.2" height="8.8" fill="#2c4a8c" />
<text x="24.6" y="413.1" font-size="4.7" fill="#fff" text-anchor="start" font-weight="normal" >P-values</text>
<rect x="60.2" y="407" width="48.4" height="8.8" fill="#2f6a4b" />
<text x="84.4" y="413.1" font-size="4.6" fill="#fff" text-anchor="middle" font-weight="normal" >ΔC1D8</text>
<rect x="110.2" y="407" width="48" height="8.8" fill="#2f6a4b" />
<text x="134.2" y="413.1" font-size="4.6" fill="#fff" text-anchor="middle" font-weight="normal" >ΔC1D15 or C2D1</text>
<rect x="159.8" y="407" width="48.2" height="8.8" fill="#2f6a4b" />
<text x="183.9" y="413.1" font-size="4.6" fill="#fff" text-anchor="middle" font-weight="normal" >ΔC1D8</text>
<rect x="209.8" y="407" width="48.1" height="8.8" fill="#2f6a4b" />
<text x="233.85" y="413.1" font-size="4.6" fill="#fff" text-anchor="middle" font-weight="normal" >ΔC1D15 or C2D1</text>
<rect x="259.5" y="407" width="48.2" height="8.8" fill="#2f6a4b" />
<text x="283.6" y="413.1" font-size="4.6" fill="#fff" text-anchor="middle" font-weight="normal" >ΔC1D8</text>
<rect x="309.3" y="407" width="48.2" height="8.8" fill="#2f6a4b" />
<text x="333.4" y="413.1" font-size="4.6" fill="#fff" text-anchor="middle" font-weight="normal" >ΔC1D15 or C2D1</text>
<rect x="23.7" y="417.4" width="35.2" height="9.1" fill="#2c4a8c" />
<text x="24.6" y="423.65" font-size="4.7" fill="#fff" text-anchor="start" font-weight="normal" >Activated CD4+</text>
<rect x="60.2" y="417.4" width="48.4" height="9.1" fill="#e9e9e9" />
<text x="84.4" y="424.35" font-size="5.0" fill="#333" text-anchor="middle" font-weight="normal" >*</text>
<rect x="110.2" y="417.4" width="48" height="9.1" fill="#e9e9e9" />
<text x="134.2" y="424.35" font-size="5.0" fill="#333" text-anchor="middle" font-weight="normal" >**</text>
<rect x="159.8" y="417.4" width="48.2" height="9.1" fill="#c9c9c9" />
<rect x="209.8" y="417.4" width="48.1" height="9.1" fill="#e9e9e9" />
<text x="233.85" y="424.35" font-size="5.0" fill="#333" text-anchor="middle" font-weight="normal" >***</text>
<rect x="259.5" y="417.4" width="48.2" height="9.1" fill="#c9c9c9" />
<rect x="309.3" y="417.4" width="48.2" height="9.1" fill="#c9c9c9" />
<rect x="23.7" y="428.1" width="35.2" height="9.1" fill="#2c4a8c" />
<text x="24.6" y="434.35" font-size="4.7" fill="#fff" text-anchor="start" font-weight="normal" >Dividing CD4+</text>
<rect x="60.2" y="428.1" width="48.4" height="9.1" fill="#e9e9e9" />
<text x="84.4" y="435.05" font-size="5.0" fill="#333" text-anchor="middle" font-weight="normal" >***</text>
<rect x="110.2" y="428.1" width="48" height="9.1" fill="#e9e9e9" />
<text x="134.2" y="435.05" font-size="5.0" fill="#333" text-anchor="middle" font-weight="normal" >***</text>
<rect x="159.8" y="428.1" width="48.2" height="9.1" fill="#e9e9e9" />
<text x="183.9" y="435.05" font-size="5.0" fill="#333" text-anchor="middle" font-weight="normal" >*</text>
<rect x="209.8" y="428.1" width="48.1" height="9.1" fill="#e9e9e9" />
<text x="233.85" y="435.05" font-size="5.0" fill="#333" text-anchor="middle" font-weight="normal" >***</text>
<rect x="259.5" y="428.1" width="48.2" height="9.1" fill="#c9c9c9" />
<rect x="309.3" y="428.1" width="48.2" height="9.1" fill="#c9c9c9" />
<rect x="23.7" y="438.8" width="35.2" height="8.9" fill="#2c4a8c" />
<text x="24.6" y="444.95" font-size="4.7" fill="#fff" text-anchor="start" font-weight="normal" >Activated CD8+</text>
<rect x="60.2" y="438.8" width="48.4" height="8.9" fill="#e9e9e9" />
<text x="84.4" y="445.65" font-size="5.0" fill="#333" text-anchor="middle" font-weight="normal" >*</text>
<rect x="110.2" y="438.8" width="48" height="8.9" fill="#e9e9e9" />
<text x="134.2" y="445.65" font-size="5.0" fill="#333" text-anchor="middle" font-weight="normal" >*</text>
<rect x="159.8" y="438.8" width="48.2" height="8.9" fill="#c9c9c9" />
<rect x="209.8" y="438.8" width="48.1" height="8.9" fill="#e9e9e9" />
<text x="233.85" y="445.65" font-size="5.0" fill="#333" text-anchor="middle" font-weight="normal" >**</text>
<rect x="259.5" y="438.8" width="48.2" height="8.9" fill="#c9c9c9" />
<rect x="309.3" y="438.8" width="48.2" height="8.9" fill="#e9e9e9" />
<text x="333.4" y="445.65" font-size="5.0" fill="#333" text-anchor="middle" font-weight="normal" >**</text>
<rect x="23.7" y="449.4" width="35.2" height="8.8" fill="#2c4a8c" />
<text x="24.6" y="455.5" font-size="4.7" fill="#fff" text-anchor="start" font-weight="normal" >*Dividing CD8+</text>
<rect x="60.2" y="449.4" width="48.4" height="8.8" fill="#e9e9e9" />
<text x="84.4" y="456.2" font-size="5.0" fill="#333" text-anchor="middle" font-weight="normal" >*</text>
<rect x="110.2" y="449.4" width="48" height="8.8" fill="#c9c9c9" />
<rect x="159.8" y="449.4" width="48.2" height="8.8" fill="#c9c9c9" />
<rect x="209.8" y="449.4" width="48.1" height="8.8" fill="#e9e9e9" />
<text x="233.85" y="456.2" font-size="5.0" fill="#333" text-anchor="middle" font-weight="normal" >**</text>
<rect x="259.5" y="449.4" width="48.2" height="8.8" fill="#c9c9c9" />
<rect x="309.3" y="449.4" width="48.2" height="8.8" fill="#e9e9e9" />
<text x="333.4" y="456.2" font-size="5.0" fill="#333" text-anchor="middle" font-weight="normal" >*</text>
<rect x="23.7" y="460" width="35.2" height="8.5" fill="#2c4a8c" />
<text x="24.6" y="465.95" font-size="4.7" fill="#fff" text-anchor="start" font-weight="normal" >T-Regulatory</text>
<rect x="60.2" y="460" width="48.4" height="8.5" fill="#e9e9e9" />
<text x="84.4" y="466.65" font-size="5.0" fill="#333" text-anchor="middle" font-weight="normal" >**</text>
<rect x="110.2" y="460" width="48" height="8.5" fill="#e9e9e9" />
<text x="134.2" y="466.65" font-size="5.0" fill="#333" text-anchor="middle" font-weight="normal" >**</text>
<rect x="159.8" y="460" width="48.2" height="8.5" fill="#c9c9c9" />
<rect x="209.8" y="460" width="48.1" height="8.5" fill="#e9e9e9" />
<text x="233.85" y="466.65" font-size="5.0" fill="#333" text-anchor="middle" font-weight="normal" >***</text>
<rect x="259.5" y="460" width="48.2" height="8.5" fill="#e9e9e9" />
<text x="283.6" y="466.65" font-size="5.0" fill="#333" text-anchor="middle" font-weight="normal" >*</text>
<rect x="309.3" y="460" width="48.2" height="8.5" fill="#e9e9e9" />
<text x="333.4" y="465.95" font-size="4.5" fill="#333" text-anchor="middle" font-weight="normal" >p=0.06</text>
<text x="26" y="476.4" font-size="4.5" fill="#333" text-anchor="start" font-weight="normal" textLength="261.7" lengthAdjust="spacingAndGlyphs">*p&lt;0.05, **p&lt;0.01, ***p&lt;0.001; paired t test (unpaired t test for Parts 1 &amp; 2 vs 3) Parts 1 &amp; 2: n=38 (median); Part 3: n=24 (median)</text>
<rect x="388.2" y="17" width="17.16" height="6.47" fill="#d8601a" />
<rect x="405.06" y="17" width="17.16" height="6.47" fill="#d0401a" />
<rect x="421.92" y="17" width="17.16" height="6.47" fill="#e8a020" />
<rect x="438.78" y="17" width="17.16" height="6.47" fill="#cc2418" />
<rect x="455.64" y="17" width="17.16" height="6.47" fill="#f0c828" />
<rect x="388.2" y="23.17" width="17.16" height="6.47" fill="#e8a020" />
<rect x="405.06" y="23.17" width="17.16" height="6.47" fill="#d0401a" />
<rect x="421.92" y="23.17" width="17.16" height="6.47" fill="#e08020" />
<rect x="438.78" y="23.17" width="17.16" height="6.47" fill="#d0441a" />
<rect x="455.64" y="23.17" width="17.16" height="6.47" fill="#f0c020" />
<rect x="388.2" y="29.34" width="17.16" height="6.47" fill="#d04a1a" />
<rect x="405.06" y="29.34" width="17.16" height="6.47" fill="#d0441a" />
<rect x="421.92" y="29.34" width="17.16" height="6.47" fill="#e8a020" />
<rect x="438.78" y="29.34" width="17.16" height="6.47" fill="#d8601a" />
<rect x="455.64" y="29.34" width="17.16" height="6.47" fill="#f8e010" />
<rect x="388.2" y="35.5" width="17.16" height="6.47" fill="#d04018" />
<rect x="405.06" y="35.5" width="17.16" height="6.47" fill="#d8581a" />
<rect x="421.92" y="35.5" width="17.16" height="6.47" fill="#e07a1e" />
<rect x="438.78" y="35.5" width="17.16" height="6.47" fill="#cc2418" />
<rect x="455.64" y="35.5" width="17.16" height="6.47" fill="#f0c020" />
<rect x="388.2" y="41.67" width="17.16" height="6.47" fill="#e0701e" />
<rect x="405.06" y="41.67" width="17.16" height="6.47" fill="#e0881e" />
<rect x="421.92" y="41.67" width="17.16" height="6.47" fill="#e0781e" />
<rect x="438.78" y="41.67" width="17.16" height="6.47" fill="#d44a1a" />
<rect x="455.64" y="41.67" width="17.16" height="6.47" fill="#f8e010" />
<rect x="388.2" y="47.84" width="17.16" height="6.47" fill="#e08020" />
<rect x="405.06" y="47.84" width="17.16" height="6.47" fill="#cc1a1a" />
<rect x="421.92" y="47.84" width="17.16" height="6.47" fill="#d03a1a" />
<rect x="438.78" y="47.84" width="17.16" height="6.47" fill="#e0781e" />
<rect x="455.64" y="47.84" width="17.16" height="6.47" fill="#e0781e" />
<rect x="388.2" y="54.01" width="17.16" height="6.47" fill="#e06a1a" />
<rect x="405.06" y="54.01" width="17.16" height="6.47" fill="#cc1a1a" />
<rect x="421.92" y="54.01" width="17.16" height="6.47" fill="#d85a1a" />
<rect x="438.78" y="54.01" width="17.16" height="6.47" fill="#e89a20" />
<rect x="455.64" y="54.01" width="17.16" height="6.47" fill="#e0781e" />
<rect x="388.2" y="60.18" width="17.16" height="6.47" fill="#d8501a" />
<rect x="405.06" y="60.18" width="17.16" height="6.47" fill="#cc1a1a" />
<rect x="421.92" y="60.18" width="17.16" height="6.47" fill="#e06a1a" />
<rect x="438.78" y="60.18" width="17.16" height="6.47" fill="#e8a020" />
<rect x="455.64" y="60.18" width="17.16" height="6.47" fill="#e8901e" />
<rect x="388.2" y="66.34" width="17.16" height="6.47" fill="#e0781e" />
<rect x="405.06" y="66.34" width="17.16" height="6.47" fill="#cc1a1a" />
<rect x="421.92" y="66.34" width="17.16" height="6.47" fill="#d8501a" />
<rect x="438.78" y="66.34" width="17.16" height="6.47" fill="#cc201a" />
<rect x="455.64" y="66.34" width="17.16" height="6.47" fill="#d8501a" />
<rect x="388.2" y="72.51" width="17.16" height="6.47" fill="#d8501a" />
<rect x="405.06" y="72.51" width="17.16" height="6.47" fill="#e08a1e" />
<rect x="421.92" y="72.51" width="17.16" height="6.47" fill="#e08a1e" />
<rect x="438.78" y="72.51" width="17.16" height="6.47" fill="#d8501a" />
<rect x="455.64" y="72.51" width="17.16" height="6.47" fill="#d8501a" />
<rect x="388.2" y="78.68" width="17.16" height="6.47" fill="#e07a1e" />
<rect x="405.06" y="78.68" width="17.16" height="6.47" fill="#e8981e" />
<rect x="421.92" y="78.68" width="17.16" height="6.47" fill="#e08a1e" />
<rect x="438.78" y="78.68" width="17.16" height="6.47" fill="#d84818" />
<rect x="455.64" y="78.68" width="17.16" height="6.47" fill="#e0701e" />
<rect x="388.2" y="84.85" width="17.16" height="6.47" fill="#e07a1e" />
<rect x="405.06" y="84.85" width="17.16" height="6.47" fill="#f8e010" />
<rect x="421.92" y="84.85" width="17.16" height="6.47" fill="#e89a1e" />
<rect x="438.78" y="84.85" width="17.16" height="6.47" fill="#e0801e" />
<rect x="455.64" y="84.85" width="17.16" height="6.47" fill="#e0801e" />
<rect x="388.2" y="91.02" width="17.16" height="6.47" fill="#cc281a" />
<rect x="405.06" y="91.02" width="17.16" height="6.47" fill="#f0b820" />
<rect x="421.92" y="91.02" width="17.16" height="6.47" fill="#d8601a" />
<rect x="438.78" y="91.02" width="17.16" height="6.47" fill="#d04a1a" />
<rect x="455.64" y="91.02" width="17.16" height="6.47" fill="#f5d020" />
<rect x="388.2" y="97.19" width="17.16" height="6.47" fill="#cc281a" />
<rect x="405.06" y="97.19" width="17.16" height="6.47" fill="#e8901e" />
<rect x="421.92" y="97.19" width="17.16" height="6.47" fill="#f5d020" />
<rect x="438.78" y="97.19" width="17.16" height="6.47" fill="#e0801e" />
<rect x="455.64" y="97.19" width="17.16" height="6.47" fill="#e8a020" />
<rect x="388.2" y="103.35" width="17.16" height="6.47" fill="#f0c820" />
<rect x="405.06" y="103.35" width="17.16" height="6.47" fill="#cc1a1a" />
<rect x="421.92" y="103.35" width="17.16" height="6.47" fill="#e07a1e" />
<rect x="438.78" y="103.35" width="17.16" height="6.47" fill="#e0801e" />
<rect x="455.64" y="103.35" width="17.16" height="6.47" fill="#e0901e" />
<rect x="388.2" y="109.52" width="17.16" height="6.47" fill="#f0c020" />
<rect x="405.06" y="109.52" width="17.16" height="6.47" fill="#cc1a1a" />
<rect x="421.92" y="109.52" width="17.16" height="6.47" fill="#e08a1e" />
<rect x="438.78" y="109.52" width="17.16" height="6.47" fill="#e0881e" />
<rect x="455.64" y="109.52" width="17.16" height="6.47" fill="#e8a020" />
<rect x="388.2" y="115.69" width="17.16" height="6.47" fill="#f8e010" />
<rect x="405.06" y="115.69" width="17.16" height="6.47" fill="#d84a1a" />
<rect x="421.92" y="115.69" width="17.16" height="6.47" fill="#e0801e" />
<rect x="438.78" y="115.69" width="17.16" height="6.47" fill="#e0681a" />
<rect x="455.64" y="115.69" width="17.16" height="6.47" fill="#d8601a" />
<rect x="388.2" y="121.86" width="17.16" height="6.47" fill="#e0881e" />
<rect x="405.06" y="121.86" width="17.16" height="6.47" fill="#e0781e" />
<rect x="421.92" y="121.86" width="17.16" height="6.47" fill="#d8601a" />
<rect x="438.78" y="121.86" width="17.16" height="6.47" fill="#f0c820" />
<rect x="455.64" y="121.86" width="17.16" height="6.47" fill="#e0801e" />
<rect x="388.2" y="128.03" width="17.16" height="6.47" fill="#e0801e" />
<rect x="405.06" y="128.03" width="17.16" height="6.47" fill="#e0801e" />
<rect x="421.92" y="128.03" width="17.16" height="6.47" fill="#e0701e" />
<rect x="438.78" y="128.03" width="17.16" height="6.47" fill="#f0c020" />
<rect x="455.64" y="128.03" width="17.16" height="6.47" fill="#f8e010" />
<rect x="388.2" y="134.19" width="17.16" height="6.47" fill="#f0c020" />
<rect x="405.06" y="134.19" width="17.16" height="6.47" fill="#e0801e" />
<rect x="421.92" y="134.19" width="17.16" height="6.47" fill="#cc2a1a" />
<rect x="438.78" y="134.19" width="17.16" height="6.47" fill="#f0b820" />
<rect x="455.64" y="134.19" width="17.16" height="6.47" fill="#f8e010" />
<rect x="388.2" y="140.36" width="17.16" height="6.47" fill="#f0e020" />
<rect x="405.06" y="140.36" width="17.16" height="6.47" fill="#e0801e" />
<rect x="421.92" y="140.36" width="17.16" height="6.47" fill="#d8581a" />
<rect x="438.78" y="140.36" width="17.16" height="6.47" fill="#e8e020" />
<rect x="455.64" y="140.36" width="17.16" height="6.47" fill="#cc281a" />
<rect x="388.2" y="146.53" width="17.16" height="6.47" fill="#ece030" />
<rect x="405.06" y="146.53" width="17.16" height="6.47" fill="#e0801e" />
<rect x="421.92" y="146.53" width="17.16" height="6.47" fill="#f8e010" />
<rect x="438.78" y="146.53" width="17.16" height="6.47" fill="#d04a1a" />
<rect x="455.64" y="146.53" width="17.16" height="6.47" fill="#f8e010" />
<rect x="388.2" y="152.7" width="17.16" height="6.47" fill="#8a8a70" />
<rect x="405.06" y="152.7" width="17.16" height="6.47" fill="#7878a0" />
<rect x="421.92" y="152.7" width="17.16" height="6.47" fill="#d8601a" />
<rect x="438.78" y="152.7" width="17.16" height="6.47" fill="#d04a1a" />
<rect x="455.64" y="152.7" width="17.16" height="6.47" fill="#f0b020" />
<rect x="388.2" y="158.87" width="17.16" height="6.47" fill="#f0e020" />
<rect x="405.06" y="158.87" width="17.16" height="6.47" fill="#a0a060" />
<rect x="421.92" y="158.87" width="17.16" height="6.47" fill="#f5c820" />
<rect x="438.78" y="158.87" width="17.16" height="6.47" fill="#d8501a" />
<rect x="455.64" y="158.87" width="17.16" height="6.47" fill="#f0e020" />
<rect x="388.2" y="165.03" width="17.16" height="6.47" fill="#d04a1a" />
<rect x="405.06" y="165.03" width="17.16" height="6.47" fill="#e0801e" />
<rect x="421.92" y="165.03" width="17.16" height="6.47" fill="#ece030" />
<rect x="438.78" y="165.03" width="17.16" height="6.47" fill="#ece030" />
<rect x="455.64" y="165.03" width="17.16" height="6.47" fill="#ece030" />
<rect x="388.2" y="171.2" width="17.16" height="6.47" fill="#f0b820" />
<rect x="405.06" y="171.2" width="17.16" height="6.47" fill="#d04018" />
<rect x="421.92" y="171.2" width="17.16" height="6.47" fill="#f5e020" />
<rect x="438.78" y="171.2" width="17.16" height="6.47" fill="#4848a8" />
<rect x="455.64" y="171.2" width="17.16" height="6.47" fill="#4848a8" />
<rect x="388.2" y="177.37" width="17.16" height="6.47" fill="#f0e030" />
<rect x="405.06" y="177.37" width="17.16" height="6.47" fill="#e8e030" />
<rect x="421.92" y="177.37" width="17.16" height="6.47" fill="#d8601a" />
<rect x="438.78" y="177.37" width="17.16" height="6.47" fill="#f0e030" />
<rect x="455.64" y="177.37" width="17.16" height="6.47" fill="#f8e010" />
<rect x="388.2" y="183.54" width="17.16" height="6.47" fill="#f8e010" />
<rect x="405.06" y="183.54" width="17.16" height="6.47" fill="#f8e010" />
<rect x="421.92" y="183.54" width="17.16" height="6.47" fill="#f5e020" />
<rect x="438.78" y="183.54" width="17.16" height="6.47" fill="#f0e030" />
<rect x="455.64" y="183.54" width="17.16" height="6.47" fill="#f8e010" />
<rect x="388.2" y="189.71" width="17.16" height="6.47" fill="#f0e030" />
<rect x="405.06" y="189.71" width="17.16" height="6.47" fill="#f8e018" />
<rect x="421.92" y="189.71" width="17.16" height="6.47" fill="#f0e030" />
<rect x="438.78" y="189.71" width="17.16" height="6.47" fill="#f8e010" />
<rect x="455.64" y="189.71" width="17.16" height="6.47" fill="#f5d818" />
<rect x="388.2" y="195.87" width="17.16" height="6.47" fill="#f5e41a" />
<rect x="405.06" y="195.87" width="17.16" height="6.47" fill="#f5e41a" />
<rect x="421.92" y="195.87" width="17.16" height="6.47" fill="#f5e41a" />
<rect x="438.78" y="195.87" width="17.16" height="6.47" fill="#f5e41a" />
<rect x="455.64" y="195.87" width="17.16" height="6.47" fill="#f5e41a" />
<rect x="388.2" y="202.04" width="17.16" height="6.47" fill="#f5e41a" />
<rect x="405.06" y="202.04" width="17.16" height="6.47" fill="#c8c040" />
<rect x="421.92" y="202.04" width="17.16" height="6.47" fill="#f8d810" />
<rect x="438.78" y="202.04" width="17.16" height="6.47" fill="#c0b848" />
<rect x="455.64" y="202.04" width="17.16" height="6.47" fill="#c8c040" />
<rect x="388.2" y="208.21" width="17.16" height="6.47" fill="#b8b448" />
<rect x="405.06" y="208.21" width="17.16" height="6.47" fill="#c8c040" />
<rect x="421.92" y="208.21" width="17.16" height="6.47" fill="#c8c040" />
<rect x="438.78" y="208.21" width="17.16" height="6.47" fill="#c8c040" />
<rect x="455.64" y="208.21" width="17.16" height="6.47" fill="#f5e41a" />
<rect x="388.2" y="214.38" width="17.16" height="6.47" fill="#b8b448" />
<rect x="405.06" y="214.38" width="17.16" height="6.47" fill="#d04a1a" />
<rect x="421.92" y="214.38" width="17.16" height="6.47" fill="#e08a1e" />
<rect x="438.78" y="214.38" width="17.16" height="6.47" fill="#5050a0" />
<rect x="455.64" y="214.38" width="17.16" height="6.47" fill="#f5e41a" />
<rect x="388.2" y="220.55" width="17.16" height="6.47" fill="#888878" />
<rect x="405.06" y="220.55" width="17.16" height="6.47" fill="#f5e020" />
<rect x="421.92" y="220.55" width="17.16" height="6.47" fill="#d8641a" />
<rect x="438.78" y="220.55" width="17.16" height="6.47" fill="#5050a0" />
<rect x="455.64" y="220.55" width="17.16" height="6.47" fill="#f0e030" />
<rect x="388.2" y="226.71" width="17.16" height="6.47" fill="#888878" />
<rect x="405.06" y="226.71" width="17.16" height="6.47" fill="#e0801e" />
<rect x="421.92" y="226.71" width="17.16" height="6.47" fill="#e08a1e" />
<rect x="438.78" y="226.71" width="17.16" height="6.47" fill="#f5d818" />
<rect x="455.64" y="226.71" width="17.16" height="6.47" fill="#888878" />
<rect x="388.2" y="232.88" width="17.16" height="6.47" fill="#5050a8" />
<rect x="405.06" y="232.88" width="17.16" height="6.47" fill="#f5c820" />
<rect x="421.92" y="232.88" width="17.16" height="6.47" fill="#f0e030" />
<rect x="438.78" y="232.88" width="17.16" height="6.47" fill="#b0b050" />
<rect x="455.64" y="232.88" width="17.16" height="6.47" fill="#989870" />
<rect x="388.2" y="239.05" width="17.16" height="6.47" fill="#909070" />
<rect x="405.06" y="239.05" width="17.16" height="6.47" fill="#4040a0" />
<rect x="421.92" y="239.05" width="17.16" height="6.47" fill="#e8a020" />
<rect x="438.78" y="239.05" width="17.16" height="6.47" fill="#5048a0" />
<rect x="455.64" y="239.05" width="17.16" height="6.47" fill="#e8a020" />
<rect x="388.2" y="245.22" width="17.16" height="6.47" fill="#808088" />
<rect x="405.06" y="245.22" width="17.16" height="6.47" fill="#787898" />
<rect x="421.92" y="245.22" width="17.16" height="6.47" fill="#c8c040" />
<rect x="438.78" y="245.22" width="17.16" height="6.47" fill="#4040a0" />
<rect x="455.64" y="245.22" width="17.16" height="6.47" fill="#f0e030" />
<rect x="388.2" y="251.39" width="17.16" height="6.47" fill="#b0b050" />
<rect x="405.06" y="251.39" width="17.16" height="6.47" fill="#e8e030" />
<rect x="421.92" y="251.39" width="17.16" height="6.47" fill="#ece030" />
<rect x="438.78" y="251.39" width="17.16" height="6.47" fill="#4040a0" />
<rect x="455.64" y="251.39" width="17.16" height="6.47" fill="#f8e010" />
<rect x="388.2" y="257.56" width="17.16" height="6.47" fill="#8a8a70" />
<rect x="405.06" y="257.56" width="17.16" height="6.47" fill="#e0d838" />
<rect x="421.92" y="257.56" width="17.16" height="6.47" fill="#f0e030" />
<rect x="438.78" y="257.56" width="17.16" height="6.47" fill="#4040a0" />
<rect x="455.64" y="257.56" width="17.16" height="6.47" fill="#f0e030" />
<rect x="388.2" y="263.72" width="17.16" height="6.47" fill="#f5c020" />
<rect x="405.06" y="263.72" width="17.16" height="6.47" fill="#f8e818" />
<rect x="421.92" y="263.72" width="17.16" height="6.47" fill="#b0a858" />
<rect x="438.78" y="263.72" width="17.16" height="6.47" fill="#b8b048" />
<rect x="455.64" y="263.72" width="17.16" height="6.47" fill="#5858a0" />
<rect x="388.2" y="269.89" width="17.16" height="6.47" fill="#f8e818" />
<rect x="405.06" y="269.89" width="17.16" height="6.47" fill="#a8a058" />
<rect x="421.92" y="269.89" width="17.16" height="6.47" fill="#a8a058" />
<rect x="438.78" y="269.89" width="17.16" height="6.47" fill="#a8a058" />
<rect x="455.64" y="269.89" width="17.16" height="6.47" fill="#4040a0" />
<rect x="388.2" y="276.06" width="17.16" height="6.47" fill="#4040a0" />
<rect x="405.06" y="276.06" width="17.16" height="6.47" fill="#e8e030" />
<rect x="421.92" y="276.06" width="17.16" height="6.47" fill="#787890" />
<rect x="438.78" y="276.06" width="17.16" height="6.47" fill="#4840a0" />
<rect x="455.64" y="276.06" width="17.16" height="6.47" fill="#4040a0" />
<rect x="388.2" y="282.23" width="17.16" height="6.47" fill="#5858a0" />
<rect x="405.06" y="282.23" width="17.16" height="6.47" fill="#686898" />
<rect x="421.92" y="282.23" width="17.16" height="6.47" fill="#4840a0" />
<rect x="438.78" y="282.23" width="17.16" height="6.47" fill="#4840a0" />
<rect x="455.64" y="282.23" width="17.16" height="6.47" fill="#4040a0" />
<rect x="388.2" y="288.4" width="17.16" height="6.47" fill="#888878" />
<rect x="405.06" y="288.4" width="17.16" height="6.47" fill="#787890" />
<rect x="421.92" y="288.4" width="17.16" height="6.47" fill="#787890" />
<rect x="438.78" y="288.4" width="17.16" height="6.47" fill="#4040a0" />
<rect x="455.64" y="288.4" width="17.16" height="6.47" fill="#4040a0" />
<rect x="388.2" y="294.56" width="17.16" height="6.47" fill="#a8a858" />
<rect x="405.06" y="294.56" width="17.16" height="6.47" fill="#4840a0" />
<rect x="421.92" y="294.56" width="17.16" height="6.47" fill="#4840a0" />
<rect x="438.78" y="294.56" width="17.16" height="6.47" fill="#4040a0" />
<rect x="455.64" y="294.56" width="17.16" height="6.47" fill="#4840a0" />
<rect x="388.2" y="300.73" width="17.16" height="6.47" fill="#b0b050" />
<rect x="405.06" y="300.73" width="17.16" height="6.47" fill="#5050a8" />
<rect x="421.92" y="300.73" width="17.16" height="6.47" fill="#4848a0" />
<rect x="438.78" y="300.73" width="17.16" height="6.47" fill="#4848a8" />
<rect x="455.64" y="300.73" width="17.16" height="6.47" fill="#4848a0" />
<text x="475.7" y="21.68" font-size="4.5" fill="#4a4a4a" text-anchor="start" font-weight="normal" >E-Selectin</text>
<text x="475.7" y="27.85" font-size="4.5" fill="#4a4a4a" text-anchor="start" font-weight="normal" >APRIL</text>
<text x="475.7" y="34.02" font-size="4.5" fill="#4a4a4a" text-anchor="start" font-weight="normal" >MIP-3 alpha</text>
<text x="475.7" y="40.19" font-size="4.5" fill="#4a4a4a" text-anchor="start" font-weight="normal" >IL-18</text>
<text x="475.7" y="46.36" font-size="4.5" fill="#4a4a4a" text-anchor="start" font-weight="normal" >ICAM-1</text>
<text x="475.7" y="52.52" font-size="4.5" fill="#4a4a4a" text-anchor="start" font-weight="normal" >MIP-1 beta</text>
<text x="475.7" y="58.69" font-size="4.5" fill="#4a4a4a" text-anchor="start" font-weight="normal" >ITAC</text>
<text x="475.7" y="64.86" font-size="4.5" fill="#4a4a4a" text-anchor="start" font-weight="normal" >sCD30</text>
<text x="475.7" y="71.03" font-size="4.5" fill="#4a4a4a" text-anchor="start" font-weight="normal" >IP-10</text>
<text x="475.7" y="77.2" font-size="4.5" fill="#4a4a4a" text-anchor="start" font-weight="normal" >SDF-1</text>
<text x="475.7" y="83.36" font-size="4.5" fill="#4a4a4a" text-anchor="start" font-weight="normal" >Factor VII</text>
<text x="475.7" y="89.53" font-size="4.5" fill="#4a4a4a" text-anchor="start" font-weight="normal" >SCF</text>
<text x="475.7" y="95.7" font-size="4.5" fill="#4a4a4a" text-anchor="start" font-weight="normal" >BAFF</text>
<text x="475.7" y="101.87" font-size="4.5" fill="#4a4a4a" text-anchor="start" font-weight="normal" >MCP-1</text>
<text x="475.7" y="108.04" font-size="4.5" fill="#4a4a4a" text-anchor="start" font-weight="normal" >MIG</text>
<text x="475.7" y="114.21" font-size="4.5" fill="#4a4a4a" text-anchor="start" font-weight="normal" >IFN-gamma Simoa</text>
<text x="475.7" y="120.37" font-size="4.5" fill="#4a4a4a" text-anchor="start" font-weight="normal" >6Ckine</text>
<text x="475.7" y="126.54" font-size="4.5" fill="#4a4a4a" text-anchor="start" font-weight="normal" >CA-15-3</text>
<text x="475.7" y="132.71" font-size="4.5" fill="#4a4a4a" text-anchor="start" font-weight="normal" >IL-6r</text>
<text x="475.7" y="138.88" font-size="4.5" fill="#4a4a4a" text-anchor="start" font-weight="normal" >sCD153</text>
<text x="475.7" y="145.05" font-size="4.5" fill="#4a4a4a" text-anchor="start" font-weight="normal" >BDNF</text>
<text x="475.7" y="151.21" font-size="4.5" fill="#4a4a4a" text-anchor="start" font-weight="normal" >MMP-3</text>
<text x="475.7" y="157.38" font-size="4.5" fill="#4a4a4a" text-anchor="start" font-weight="normal" >Eotaxin-2</text>
<text x="475.7" y="163.55" font-size="4.5" fill="#4a4a4a" text-anchor="start" font-weight="normal" >IL-8</text>
<text x="475.7" y="169.72" font-size="4.5" fill="#4a4a4a" text-anchor="start" font-weight="normal" >MCP-2</text>
<text x="475.7" y="175.89" font-size="4.5" fill="#4a4a4a" text-anchor="start" font-weight="normal" >MIP-3 beta</text>
<text x="475.7" y="182.05" font-size="4.5" fill="#4a4a4a" text-anchor="start" font-weight="normal" >IL-31</text>
<text x="475.7" y="188.22" font-size="4.5" fill="#4a4a4a" text-anchor="start" font-weight="normal" >IFN-alpha</text>
<text x="475.7" y="194.39" font-size="4.5" fill="#4a4a4a" text-anchor="start" font-weight="normal" >TNF-alpha</text>
<text x="475.7" y="200.56" font-size="4.5" fill="#4a4a4a" text-anchor="start" font-weight="normal" >IL-2</text>
<text x="475.7" y="206.73" font-size="4.5" fill="#4a4a4a" text-anchor="start" font-weight="normal" >IL-1 alpha</text>
<text x="475.7" y="212.89" font-size="4.5" fill="#4a4a4a" text-anchor="start" font-weight="normal" >MIP-1 alpha</text>
<text x="475.7" y="219.06" font-size="4.5" fill="#4a4a4a" text-anchor="start" font-weight="normal" >MCP-4</text>
<text x="475.7" y="225.23" font-size="4.5" fill="#4a4a4a" text-anchor="start" font-weight="normal" >Tweak</text>
<text x="475.7" y="231.4" font-size="4.5" fill="#4a4a4a" text-anchor="start" font-weight="normal" >IL-1ra</text>
<text x="475.7" y="237.57" font-size="4.5" fill="#4a4a4a" text-anchor="start" font-weight="normal" >IL-12p40</text>
<text x="475.7" y="243.74" font-size="4.5" fill="#4a4a4a" text-anchor="start" font-weight="normal" >Eotaxin-1</text>
<text x="475.7" y="249.9" font-size="4.5" fill="#4a4a4a" text-anchor="start" font-weight="normal" >LAP TGF-b1</text>
<text x="475.7" y="256.07" font-size="4.5" fill="#4a4a4a" text-anchor="start" font-weight="normal" >DKK-1</text>
<text x="475.7" y="262.24" font-size="4.5" fill="#4a4a4a" text-anchor="start" font-weight="normal" >GRO-alpha</text>
<text x="475.7" y="268.41" font-size="4.5" fill="#4a4a4a" text-anchor="start" font-weight="normal" >TFN RI</text>
<text x="475.7" y="274.58" font-size="4.5" fill="#4a4a4a" text-anchor="start" font-weight="normal" >MIF-1</text>
<text x="475.7" y="280.74" font-size="4.5" fill="#4a4a4a" text-anchor="start" font-weight="normal" >IL-10</text>
<text x="475.7" y="286.91" font-size="4.5" fill="#4a4a4a" text-anchor="start" font-weight="normal" >IL-6</text>
<text x="475.7" y="293.08" font-size="4.5" fill="#4a4a4a" text-anchor="start" font-weight="normal" >IL-2 receptor alpha</text>
<text x="475.7" y="299.25" font-size="4.5" fill="#4a4a4a" text-anchor="start" font-weight="normal" >IL-22</text>
<text x="475.7" y="305.42" font-size="4.5" fill="#4a4a4a" text-anchor="start" font-weight="normal" >TARC</text>
<text transform="translate(399.63 315.2) rotate(-30)" font-size="7.0" fill="#111" stroke="#111" stroke-width="0.12" text-anchor="end">C1D8</text>
<text transform="translate(416.49 315.2) rotate(-30)" font-size="7.0" fill="#111" stroke="#111" stroke-width="0.12" text-anchor="end">C1D15</text>
<text transform="translate(433.35 315.2) rotate(-30)" font-size="7.0" fill="#111" stroke="#111" stroke-width="0.12" text-anchor="end">C2D1</text>
<text transform="translate(450.21 315.2) rotate(-30)" font-size="7.0" fill="#111" stroke="#111" stroke-width="0.12" text-anchor="end">C2D8</text>
<text transform="translate(467.07 315.2) rotate(-30)" font-size="7.0" fill="#111" stroke="#111" stroke-width="0.12" text-anchor="end">C3D1</text>
<rect x="37.9" y="503.7" width="130.9" height="110.3" fill="#e8e8e8" />
<rect x="102.1" y="503.7" width="1.9" height="110.3" fill="#fff" />
<text x="102.8" y="499" font-size="6.9" fill="#222" text-anchor="middle" font-weight="normal" >IP-10</text>
<rect x="39.8" y="593.2" width="16.6" height="3.2" fill="#fff" />
<line x1="40.3" y1="594.8" x2="55.9" y2="594.8" stroke="#111" stroke-width="1" />
<rect x="42.7" y="593.4" width="10.8" height="2.8" fill="#24427f" rx="1.4"/>
<rect x="107.7" y="593.2" width="16.6" height="3.2" fill="#fff" />
<line x1="108.2" y1="594.8" x2="123.8" y2="594.8" stroke="#111" stroke-width="1" />
<rect x="110.6" y="593.4" width="10.8" height="2.8" fill="#c8117b" rx="1.4"/>
<line x1="69.05" y1="553.5" x2="69.05" y2="606.1" stroke="#000" stroke-width="1.1" />
<rect x="61.3" y="574" width="15.5" height="16.7" fill="#fff" stroke="#000" stroke-width="1.2"/>
<line x1="61.3" y1="581.6" x2="76.8" y2="581.6" stroke="#000" stroke-width="1.2" />
<line x1="89.3" y1="553" x2="89.3" y2="594.3" stroke="#000" stroke-width="1.1" />
<rect x="81.2" y="568.4" width="16.2" height="14.1" fill="#fff" stroke="#000" stroke-width="1.2"/>
<line x1="81.2" y1="574.7" x2="97.4" y2="574.7" stroke="#000" stroke-width="1.2" />
<line x1="136.3" y1="548.7" x2="136.3" y2="582.6" stroke="#000" stroke-width="1.1" />
<rect x="128.5" y="561.7" width="15.6" height="14.2" fill="#fff" stroke="#000" stroke-width="1.2"/>
<line x1="128.5" y1="568.1" x2="144.1" y2="568.1" stroke="#000" stroke-width="1.2" />
<line x1="156.5" y1="552.7" x2="156.5" y2="586.3" stroke="#000" stroke-width="1.1" />
<rect x="148.5" y="568.5" width="16" height="11" fill="#fff" stroke="#000" stroke-width="1.2"/>
<line x1="148.5" y1="574.1" x2="164.5" y2="574.1" stroke="#000" stroke-width="1.2" />
<circle cx="70.36" cy="553.14" r="1.5" fill="#24427f"/>
<circle cx="67.28" cy="557.13" r="1.5" fill="#24427f"/>
<circle cx="72.18" cy="559.85" r="1.5" fill="#24427f"/>
<circle cx="65.83" cy="559.85" r="1.5" fill="#24427f"/>
<circle cx="68.55" cy="562.57" r="1.5" fill="#24427f"/>
<circle cx="68.55" cy="566.2" r="1.5" fill="#24427f"/>
<circle cx="66.74" cy="569.82" r="1.5" fill="#24427f"/>
<circle cx="69.46" cy="571.64" r="1.5" fill="#24427f"/>
<circle cx="64.92" cy="572.54" r="1.5" fill="#24427f"/>
<circle cx="71.27" cy="574.36" r="1.5" fill="#24427f"/>
<circle cx="67.64" cy="576.17" r="1.5" fill="#24427f"/>
<circle cx="65.83" cy="577.98" r="1.5" fill="#24427f"/>
<circle cx="70.36" cy="579.8" r="1.5" fill="#24427f"/>
<circle cx="64.02" cy="580.7" r="1.5" fill="#24427f"/>
<circle cx="68.55" cy="581.61" r="1.5" fill="#24427f"/>
<circle cx="66.74" cy="583.42" r="1.5" fill="#24427f"/>
<circle cx="71.27" cy="584.33" r="1.5" fill="#24427f"/>
<circle cx="64.92" cy="585.24" r="1.5" fill="#24427f"/>
<circle cx="69.46" cy="587.05" r="1.5" fill="#24427f"/>
<circle cx="67.64" cy="588.86" r="1.5" fill="#24427f"/>
<circle cx="72.18" cy="589.77" r="1.5" fill="#24427f"/>
<circle cx="65.83" cy="591.59" r="1.5" fill="#24427f"/>
<circle cx="70.36" cy="593.4" r="1.5" fill="#24427f"/>
<circle cx="68.55" cy="595.21" r="1.5" fill="#24427f"/>
<circle cx="71.27" cy="594.31" r="1.5" fill="#24427f"/>
<circle cx="64.92" cy="598.84" r="1.5" fill="#24427f"/>
<circle cx="68.55" cy="598.84" r="1.5" fill="#24427f"/>
<circle cx="72.18" cy="603.37" r="1.5" fill="#24427f"/>
<circle cx="68.55" cy="606.09" r="1.5" fill="#24427f"/>
<circle cx="66.74" cy="574.36" r="1.5" fill="#24427f"/>
<circle cx="69.46" cy="577.98" r="1.5" fill="#24427f"/>
<circle cx="67.28" cy="585.24" r="1.5" fill="#24427f"/>
<circle cx="69.82" cy="590.68" r="1.5" fill="#24427f"/>
<circle cx="65.84" cy="579.58" r="1.5" fill="#24427f"/>
<circle cx="65.12" cy="584.72" r="1.5" fill="#24427f"/>
<circle cx="67.81" cy="582.91" r="1.5" fill="#24427f"/>
<circle cx="69.12" cy="575.41" r="1.5" fill="#24427f"/>
<circle cx="68.44" cy="575.09" r="1.5" fill="#24427f"/>
<circle cx="65.28" cy="575.6" r="1.5" fill="#24427f"/>
<circle cx="72.06" cy="581.16" r="1.5" fill="#24427f"/>
<circle cx="66.5" cy="576.44" r="1.5" fill="#24427f"/>
<circle cx="73.17" cy="584.35" r="1.5" fill="#24427f"/>
<circle cx="68.1" cy="583.56" r="1.5" fill="#24427f"/>
<circle cx="64.88" cy="589.83" r="1.5" fill="#24427f"/>
<circle cx="67.11" cy="587.98" r="1.5" fill="#24427f"/>
<circle cx="65.53" cy="576.76" r="1.5" fill="#24427f"/>
<circle cx="71.96" cy="579.34" r="1.5" fill="#24427f"/>
<circle cx="85.78" cy="523.58" r="1.5" fill="#24427f"/>
<circle cx="86.69" cy="523.21" r="1.5" fill="#24427f"/>
<circle cx="93.03" cy="528.47" r="1.5" fill="#24427f"/>
<circle cx="89.95" cy="535" r="1.5" fill="#24427f"/>
<circle cx="85.42" cy="553.14" r="1.5" fill="#24427f"/>
<circle cx="92.67" cy="555.31" r="1.5" fill="#24427f"/>
<circle cx="92.67" cy="557.13" r="1.5" fill="#24427f"/>
<circle cx="91.22" cy="562.57" r="1.5" fill="#24427f"/>
<circle cx="93.03" cy="564.38" r="1.5" fill="#24427f"/>
<circle cx="89.41" cy="568.92" r="1.5" fill="#24427f"/>
<circle cx="86.69" cy="569.82" r="1.5" fill="#24427f"/>
<circle cx="92.13" cy="570.73" r="1.5" fill="#24427f"/>
<circle cx="84.87" cy="572.54" r="1.5" fill="#24427f"/>
<circle cx="88.5" cy="573.45" r="1.5" fill="#24427f"/>
<circle cx="91.22" cy="574.36" r="1.5" fill="#24427f"/>
<circle cx="87.59" cy="576.17" r="1.5" fill="#24427f"/>
<circle cx="93.03" cy="577.98" r="1.5" fill="#24427f"/>
<circle cx="89.41" cy="579.8" r="1.5" fill="#24427f"/>
<circle cx="85.78" cy="581.61" r="1.5" fill="#24427f"/>
<circle cx="91.22" cy="582.52" r="1.5" fill="#24427f"/>
<circle cx="88.5" cy="584.33" r="1.5" fill="#24427f"/>
<circle cx="93.03" cy="583.42" r="1.5" fill="#24427f"/>
<circle cx="84.87" cy="588.86" r="1.5" fill="#24427f"/>
<circle cx="87.59" cy="589.77" r="1.5" fill="#24427f"/>
<circle cx="89.41" cy="594.31" r="1.5" fill="#24427f"/>
<circle cx="92.13" cy="595.21" r="1.5" fill="#24427f"/>
<circle cx="88.5" cy="606.09" r="1.5" fill="#24427f"/>
<circle cx="90.05" cy="571.27" r="1.5" fill="#24427f"/>
<circle cx="88.13" cy="577.27" r="1.5" fill="#24427f"/>
<circle cx="85.28" cy="576.08" r="1.5" fill="#24427f"/>
<circle cx="86.59" cy="569.68" r="1.5" fill="#24427f"/>
<circle cx="88.63" cy="577.81" r="1.5" fill="#24427f"/>
<circle cx="90.09" cy="573.02" r="1.5" fill="#24427f"/>
<circle cx="87.46" cy="574.84" r="1.5" fill="#24427f"/>
<circle cx="91.13" cy="579.31" r="1.5" fill="#24427f"/>
<circle cx="134.14" cy="551.75" r="1.5" fill="#c8117b"/>
<circle cx="139.04" cy="549.03" r="1.5" fill="#c8117b"/>
<circle cx="139.95" cy="553.57" r="1.5" fill="#c8117b"/>
<circle cx="134.5" cy="559.92" r="1.5" fill="#c8117b"/>
<circle cx="138.13" cy="562.65" r="1.5" fill="#c8117b"/>
<circle cx="132.69" cy="565.37" r="1.5" fill="#c8117b"/>
<circle cx="135.41" cy="567.19" r="1.5" fill="#c8117b"/>
<circle cx="131.78" cy="569" r="1.5" fill="#c8117b"/>
<circle cx="137.23" cy="569.91" r="1.5" fill="#c8117b"/>
<circle cx="133.59" cy="571.73" r="1.5" fill="#c8117b"/>
<circle cx="136.32" cy="573.54" r="1.5" fill="#c8117b"/>
<circle cx="134.5" cy="575.36" r="1.5" fill="#c8117b"/>
<circle cx="138.13" cy="574.45" r="1.5" fill="#c8117b"/>
<circle cx="132.69" cy="577.17" r="1.5" fill="#c8117b"/>
<circle cx="135.41" cy="579.9" r="1.5" fill="#c8117b"/>
<circle cx="133.59" cy="581.71" r="1.5" fill="#c8117b"/>
<circle cx="136.32" cy="583.17" r="1.5" fill="#c8117b"/>
<circle cx="134.5" cy="607.14" r="1.5" fill="#c8117b"/>
<circle cx="136.98" cy="565.42" r="1.5" fill="#c8117b"/>
<circle cx="139.75" cy="569.13" r="1.5" fill="#c8117b"/>
<circle cx="134.35" cy="571.83" r="1.5" fill="#c8117b"/>
<circle cx="132.79" cy="575.14" r="1.5" fill="#c8117b"/>
<circle cx="138.67" cy="567.72" r="1.5" fill="#c8117b"/>
<circle cx="158.11" cy="523.61" r="1.5" fill="#c8117b"/>
<circle cx="155.02" cy="542.31" r="1.5" fill="#c8117b"/>
<circle cx="155.02" cy="553.21" r="1.5" fill="#c8117b"/>
<circle cx="160.47" cy="552.66" r="1.5" fill="#c8117b"/>
<circle cx="156.29" cy="558.11" r="1.5" fill="#c8117b"/>
<circle cx="154.48" cy="564.46" r="1.5" fill="#c8117b"/>
<circle cx="158.11" cy="569" r="1.5" fill="#c8117b"/>
<circle cx="151.75" cy="570.82" r="1.5" fill="#c8117b"/>
<circle cx="154.48" cy="572.63" r="1.5" fill="#c8117b"/>
<circle cx="156.29" cy="574.45" r="1.5" fill="#c8117b"/>
<circle cx="152.66" cy="576.27" r="1.5" fill="#c8117b"/>
<circle cx="157.2" cy="577.17" r="1.5" fill="#c8117b"/>
<circle cx="154.48" cy="578.99" r="1.5" fill="#c8117b"/>
<circle cx="153.57" cy="580.81" r="1.5" fill="#c8117b"/>
<circle cx="159.02" cy="582.62" r="1.5" fill="#c8117b"/>
<circle cx="152.66" cy="583.89" r="1.5" fill="#c8117b"/>
<circle cx="155.38" cy="587.16" r="1.5" fill="#c8117b"/>
<circle cx="157.2" cy="610.77" r="1.5" fill="#c8117b"/>
<circle cx="156.4" cy="570.52" r="1.5" fill="#c8117b"/>
<circle cx="158.05" cy="569.39" r="1.5" fill="#c8117b"/>
<circle cx="157.17" cy="576.65" r="1.5" fill="#c8117b"/>
<circle cx="154.79" cy="577.75" r="1.5" fill="#c8117b"/>
<circle cx="157.37" cy="575.95" r="1.5" fill="#c8117b"/>
<line x1="36.5" y1="503.7" x2="36.5" y2="615.6" stroke="#000" stroke-width="1.5" />
<line x1="35.75" y1="615.6" x2="168.8" y2="615.6" stroke="#000" stroke-width="1.4" />
<line x1="33.3" y1="612.85" x2="36.5" y2="612.85" stroke="#000" stroke-width="1" />
<text x="30.3" y="614.35" font-size="4.5" fill="#333" text-anchor="end" font-weight="normal" >-1</text>
<line x1="33.3" y1="594.8" x2="36.5" y2="594.8" stroke="#000" stroke-width="1" />
<text x="30.3" y="596.3" font-size="4.5" fill="#333" text-anchor="end" font-weight="normal" >0</text>
<line x1="33.3" y1="576.75" x2="36.5" y2="576.75" stroke="#000" stroke-width="1" />
<text x="30.3" y="578.25" font-size="4.5" fill="#333" text-anchor="end" font-weight="normal" >1</text>
<line x1="33.3" y1="558.7" x2="36.5" y2="558.7" stroke="#000" stroke-width="1" />
<text x="30.3" y="560.2" font-size="4.5" fill="#333" text-anchor="end" font-weight="normal" >2</text>
<line x1="33.3" y1="540.65" x2="36.5" y2="540.65" stroke="#000" stroke-width="1" />
<text x="30.3" y="542.15" font-size="4.5" fill="#333" text-anchor="end" font-weight="normal" >3</text>
<line x1="33.3" y1="522.6" x2="36.5" y2="522.6" stroke="#000" stroke-width="1" />
<text x="30.3" y="524.1" font-size="4.5" fill="#333" text-anchor="end" font-weight="normal" >4</text>
<line x1="48.1" y1="615.6" x2="48.1" y2="618.9" stroke="#000" stroke-width="1.1" />
<text transform="translate(51.2 624.4) rotate(-45)" font-size="4.5" fill="#222" text-anchor="end">C1D1</text>
<line x1="68.2" y1="615.6" x2="68.2" y2="618.9" stroke="#000" stroke-width="1.1" />
<text transform="translate(71.3 624.4) rotate(-45)" font-size="4.5" fill="#222" text-anchor="end">C1D8</text>
<line x1="88.6" y1="615.6" x2="88.6" y2="618.9" stroke="#000" stroke-width="1.1" />
<text transform="translate(91.7 624.4) rotate(-45)" font-size="4.5" fill="#222" text-anchor="end">C1D15</text>
<line x1="116" y1="615.6" x2="116" y2="618.9" stroke="#000" stroke-width="1.1" />
<text transform="translate(119.1 624.4) rotate(-45)" font-size="4.5" fill="#222" text-anchor="end">C1D1</text>
<line x1="136.3" y1="615.6" x2="136.3" y2="618.9" stroke="#000" stroke-width="1.1" />
<text transform="translate(139.4 624.4) rotate(-45)" font-size="4.5" fill="#222" text-anchor="end">C1D8</text>
<line x1="156.8" y1="615.6" x2="156.8" y2="618.9" stroke="#000" stroke-width="1.1" />
<text transform="translate(159.9 624.4) rotate(-45)" font-size="4.5" fill="#222" text-anchor="end">C1D15</text>
<rect x="189" y="503.7" width="134.4" height="110.3" fill="#e8e8e8" />
<rect x="254.2" y="503.7" width="1.8" height="110.3" fill="#fff" />
<text x="254.8" y="499" font-size="6.9" fill="#222" text-anchor="middle" font-weight="normal" >IL-18</text>
<rect x="191.6" y="586.4" width="16.6" height="3.2" fill="#fff" />
<line x1="192.1" y1="588" x2="207.7" y2="588" stroke="#111" stroke-width="1" />
<rect x="194.5" y="586.6" width="10.8" height="2.8" fill="#24427f" rx="1.4"/>
<rect x="260.6" y="586.4" width="16.6" height="3.2" fill="#fff" />
<line x1="261.1" y1="588" x2="276.7" y2="588" stroke="#111" stroke-width="1" />
<rect x="263.5" y="586.6" width="10.8" height="2.8" fill="#c8117b" rx="1.4"/>
<line x1="220.5" y1="534.7" x2="220.5" y2="610.7" stroke="#000" stroke-width="1.1" />
<rect x="212.2" y="556.5" width="16.6" height="24" fill="#fff" stroke="#000" stroke-width="1.2"/>
<line x1="212.2" y1="569.7" x2="228.8" y2="569.7" stroke="#000" stroke-width="1.2" />
<line x1="241.55" y1="540.4" x2="241.55" y2="603.2" stroke="#000" stroke-width="1.1" />
<rect x="233.5" y="562.5" width="16.1" height="19.5" fill="#fff" stroke="#000" stroke-width="1.2"/>
<line x1="233.5" y1="571" x2="249.6" y2="571" stroke="#000" stroke-width="1.2" />
<line x1="289.65" y1="526.8" x2="289.65" y2="586.7" stroke="#000" stroke-width="1.1" />
<rect x="281.6" y="550.4" width="16.1" height="16.5" fill="#fff" stroke="#000" stroke-width="1.2"/>
<line x1="281.6" y1="558.4" x2="297.7" y2="558.4" stroke="#000" stroke-width="1.2" />
<line x1="310.55" y1="528.1" x2="310.55" y2="596.2" stroke="#000" stroke-width="1.1" />
<rect x="302.6" y="549.5" width="15.9" height="25.9" fill="#fff" stroke="#000" stroke-width="1.2"/>
<line x1="302.6" y1="562.1" x2="318.5" y2="562.1" stroke="#000" stroke-width="1.2" />
<circle cx="220.28" cy="534.34" r="1.5" fill="#24427f"/>
<circle cx="224.44" cy="537.55" r="1.5" fill="#24427f"/>
<circle cx="223.5" cy="541.34" r="1.5" fill="#24427f"/>
<circle cx="221.61" cy="544.17" r="1.5" fill="#24427f"/>
<circle cx="216.88" cy="549.85" r="1.5" fill="#24427f"/>
<circle cx="224.44" cy="549.85" r="1.5" fill="#24427f"/>
<circle cx="218.77" cy="551.74" r="1.5" fill="#24427f"/>
<circle cx="225.39" cy="552.68" r="1.5" fill="#24427f"/>
<circle cx="219.72" cy="554.57" r="1.5" fill="#24427f"/>
<circle cx="222.55" cy="555.52" r="1.5" fill="#24427f"/>
<circle cx="217.83" cy="557.41" r="1.5" fill="#24427f"/>
<circle cx="224.44" cy="558.36" r="1.5" fill="#24427f"/>
<circle cx="220.66" cy="559.3" r="1.5" fill="#24427f"/>
<circle cx="225.39" cy="562.14" r="1.5" fill="#24427f"/>
<circle cx="218.77" cy="564.98" r="1.5" fill="#24427f"/>
<circle cx="221.61" cy="565.92" r="1.5" fill="#24427f"/>
<circle cx="219.72" cy="567.81" r="1.5" fill="#24427f"/>
<circle cx="224.44" cy="568.76" r="1.5" fill="#24427f"/>
<circle cx="217.83" cy="570.65" r="1.5" fill="#24427f"/>
<circle cx="222.55" cy="571.6" r="1.5" fill="#24427f"/>
<circle cx="220.66" cy="573.49" r="1.5" fill="#24427f"/>
<circle cx="218.77" cy="576.32" r="1.5" fill="#24427f"/>
<circle cx="225.39" cy="578.22" r="1.5" fill="#24427f"/>
<circle cx="217.83" cy="581.05" r="1.5" fill="#24427f"/>
<circle cx="223.5" cy="582" r="1.5" fill="#24427f"/>
<circle cx="219.72" cy="583.89" r="1.5" fill="#24427f"/>
<circle cx="222.55" cy="585.78" r="1.5" fill="#24427f"/>
<circle cx="218.77" cy="587.67" r="1.5" fill="#24427f"/>
<circle cx="220.66" cy="591.45" r="1.5" fill="#24427f"/>
<circle cx="219.72" cy="594.29" r="1.5" fill="#24427f"/>
<circle cx="221.61" cy="598.07" r="1.5" fill="#24427f"/>
<circle cx="220.66" cy="603.75" r="1.5" fill="#24427f"/>
<circle cx="223.5" cy="607.53" r="1.5" fill="#24427f"/>
<circle cx="222.55" cy="610.74" r="1.5" fill="#24427f"/>
<circle cx="223.12" cy="555.14" r="1.5" fill="#24427f"/>
<circle cx="221.23" cy="557.03" r="1.5" fill="#24427f"/>
<circle cx="220.1" cy="570.34" r="1.5" fill="#24427f"/>
<circle cx="224.59" cy="576.32" r="1.5" fill="#24427f"/>
<circle cx="222.01" cy="567.9" r="1.5" fill="#24427f"/>
<circle cx="222.35" cy="558.4" r="1.5" fill="#24427f"/>
<circle cx="225.04" cy="571.88" r="1.5" fill="#24427f"/>
<circle cx="218.52" cy="575.9" r="1.5" fill="#24427f"/>
<circle cx="222.05" cy="565.87" r="1.5" fill="#24427f"/>
<circle cx="220.15" cy="557.52" r="1.5" fill="#24427f"/>
<circle cx="216.98" cy="560.87" r="1.5" fill="#24427f"/>
<circle cx="222.97" cy="558.36" r="1.5" fill="#24427f"/>
<circle cx="240.14" cy="540.39" r="1.5" fill="#24427f"/>
<circle cx="245.25" cy="540.96" r="1.5" fill="#24427f"/>
<circle cx="242.41" cy="544.17" r="1.5" fill="#24427f"/>
<circle cx="244.3" cy="547.01" r="1.5" fill="#24427f"/>
<circle cx="243.36" cy="550.79" r="1.5" fill="#24427f"/>
<circle cx="240.52" cy="556.47" r="1.5" fill="#24427f"/>
<circle cx="238.63" cy="561.19" r="1.5" fill="#24427f"/>
<circle cx="242.41" cy="564.03" r="1.5" fill="#24427f"/>
<circle cx="237.68" cy="566.87" r="1.5" fill="#24427f"/>
<circle cx="241.47" cy="568.76" r="1.5" fill="#24427f"/>
<circle cx="244.3" cy="570.65" r="1.5" fill="#24427f"/>
<circle cx="239.57" cy="573.49" r="1.5" fill="#24427f"/>
<circle cx="236.74" cy="576.32" r="1.5" fill="#24427f"/>
<circle cx="243.36" cy="577.27" r="1.5" fill="#24427f"/>
<circle cx="240.52" cy="580.11" r="1.5" fill="#24427f"/>
<circle cx="245.25" cy="579.16" r="1.5" fill="#24427f"/>
<circle cx="238.63" cy="582.94" r="1.5" fill="#24427f"/>
<circle cx="242.41" cy="583.89" r="1.5" fill="#24427f"/>
<circle cx="243.36" cy="587.67" r="1.5" fill="#24427f"/>
<circle cx="239.57" cy="592.4" r="1.5" fill="#24427f"/>
<circle cx="241.47" cy="595.24" r="1.5" fill="#24427f"/>
<circle cx="243.36" cy="598.07" r="1.5" fill="#24427f"/>
<circle cx="242.41" cy="600.91" r="1.5" fill="#24427f"/>
<circle cx="245.25" cy="603.75" r="1.5" fill="#24427f"/>
<circle cx="239.23" cy="565.39" r="1.5" fill="#24427f"/>
<circle cx="244.97" cy="570.23" r="1.5" fill="#24427f"/>
<circle cx="241.08" cy="564.49" r="1.5" fill="#24427f"/>
<circle cx="245.08" cy="573.16" r="1.5" fill="#24427f"/>
<circle cx="244.9" cy="578.16" r="1.5" fill="#24427f"/>
<circle cx="240.77" cy="568.15" r="1.5" fill="#24427f"/>
<circle cx="289.72" cy="525.26" r="1.5" fill="#c8117b"/>
<circle cx="285.93" cy="527.53" r="1.5" fill="#c8117b"/>
<circle cx="293.12" cy="535.09" r="1.5" fill="#c8117b"/>
<circle cx="291.99" cy="540.77" r="1.5" fill="#c8117b"/>
<circle cx="291.23" cy="544.55" r="1.5" fill="#c8117b"/>
<circle cx="292.55" cy="545.69" r="1.5" fill="#c8117b"/>
<circle cx="290.66" cy="547.01" r="1.5" fill="#c8117b"/>
<circle cx="291.61" cy="551.74" r="1.5" fill="#c8117b"/>
<circle cx="286.88" cy="554.57" r="1.5" fill="#c8117b"/>
<circle cx="284.99" cy="557.41" r="1.5" fill="#c8117b"/>
<circle cx="288.77" cy="559.3" r="1.5" fill="#c8117b"/>
<circle cx="285.93" cy="562.14" r="1.5" fill="#c8117b"/>
<circle cx="289.72" cy="564.03" r="1.5" fill="#c8117b"/>
<circle cx="286.88" cy="565.92" r="1.5" fill="#c8117b"/>
<circle cx="290.66" cy="569.7" r="1.5" fill="#c8117b"/>
<circle cx="288.77" cy="576.7" r="1.5" fill="#c8117b"/>
<circle cx="292.55" cy="581.05" r="1.5" fill="#c8117b"/>
<circle cx="293.5" cy="582.38" r="1.5" fill="#c8117b"/>
<circle cx="290.66" cy="586.73" r="1.5" fill="#c8117b"/>
<circle cx="293.18" cy="556.46" r="1.5" fill="#c8117b"/>
<circle cx="286.44" cy="565.74" r="1.5" fill="#c8117b"/>
<circle cx="287.18" cy="553.63" r="1.5" fill="#c8117b"/>
<circle cx="289.51" cy="554.52" r="1.5" fill="#c8117b"/>
<circle cx="313.36" cy="527.53" r="1.5" fill="#c8117b"/>
<circle cx="310.14" cy="531.88" r="1.5" fill="#c8117b"/>
<circle cx="308.63" cy="534.72" r="1.5" fill="#c8117b"/>
<circle cx="308.25" cy="544.55" r="1.5" fill="#c8117b"/>
<circle cx="312.41" cy="545.69" r="1.5" fill="#c8117b"/>
<circle cx="313.36" cy="547.96" r="1.5" fill="#c8117b"/>
<circle cx="314.3" cy="549.85" r="1.5" fill="#c8117b"/>
<circle cx="307.68" cy="558.36" r="1.5" fill="#c8117b"/>
<circle cx="311.47" cy="560.25" r="1.5" fill="#c8117b"/>
<circle cx="306.74" cy="563.09" r="1.5" fill="#c8117b"/>
<circle cx="312.41" cy="565.35" r="1.5" fill="#c8117b"/>
<circle cx="310.52" cy="568.76" r="1.5" fill="#c8117b"/>
<circle cx="307.68" cy="572.54" r="1.5" fill="#c8117b"/>
<circle cx="311.47" cy="571.6" r="1.5" fill="#c8117b"/>
<circle cx="309.57" cy="575.38" r="1.5" fill="#c8117b"/>
<circle cx="312.41" cy="577.27" r="1.5" fill="#c8117b"/>
<circle cx="310.52" cy="579.16" r="1.5" fill="#c8117b"/>
<circle cx="306.74" cy="583.89" r="1.5" fill="#c8117b"/>
<circle cx="306.74" cy="587.67" r="1.5" fill="#c8117b"/>
<circle cx="307.68" cy="596.18" r="1.5" fill="#c8117b"/>
<circle cx="308.37" cy="564.67" r="1.5" fill="#c8117b"/>
<circle cx="309.8" cy="550.1" r="1.5" fill="#c8117b"/>
<circle cx="311.16" cy="559.19" r="1.5" fill="#c8117b"/>
<circle cx="312.3" cy="573.73" r="1.5" fill="#c8117b"/>
<line x1="187.25" y1="503.7" x2="187.25" y2="615.6" stroke="#000" stroke-width="1.5" />
<line x1="186.5" y1="615.6" x2="323.4" y2="615.6" stroke="#000" stroke-width="1.4" />
<line x1="184.05" y1="588" x2="187.25" y2="588" stroke="#000" stroke-width="1" />
<text x="181.05" y="589.5" font-size="4.5" fill="#333" text-anchor="end" font-weight="normal" >0</text>
<line x1="184.05" y1="554.25" x2="187.25" y2="554.25" stroke="#000" stroke-width="1" />
<text x="181.05" y="555.75" font-size="4.5" fill="#333" text-anchor="end" font-weight="normal" >1</text>
<line x1="184.05" y1="520.5" x2="187.25" y2="520.5" stroke="#000" stroke-width="1" />
<text x="181.05" y="522" font-size="4.5" fill="#333" text-anchor="end" font-weight="normal" >2</text>
<line x1="199.9" y1="615.6" x2="199.9" y2="618.9" stroke="#000" stroke-width="1.1" />
<text transform="translate(203 624.4) rotate(-45)" font-size="4.5" fill="#222" text-anchor="end">C1D1</text>
<line x1="220.7" y1="615.6" x2="220.7" y2="618.9" stroke="#000" stroke-width="1.1" />
<text transform="translate(223.8 624.4) rotate(-45)" font-size="4.5" fill="#222" text-anchor="end">C1D8</text>
<line x1="241.5" y1="615.6" x2="241.5" y2="618.9" stroke="#000" stroke-width="1.1" />
<text transform="translate(244.6 624.4) rotate(-45)" font-size="4.5" fill="#222" text-anchor="end">C1D15</text>
<line x1="268.9" y1="615.6" x2="268.9" y2="618.9" stroke="#000" stroke-width="1.1" />
<text transform="translate(272 624.4) rotate(-45)" font-size="4.5" fill="#222" text-anchor="end">C1D1</text>
<line x1="289.7" y1="615.6" x2="289.7" y2="618.9" stroke="#000" stroke-width="1.1" />
<text transform="translate(292.8 624.4) rotate(-45)" font-size="4.5" fill="#222" text-anchor="end">C1D8</text>
<line x1="310.5" y1="615.6" x2="310.5" y2="618.9" stroke="#000" stroke-width="1.1" />
<text transform="translate(313.6 624.4) rotate(-45)" font-size="4.5" fill="#222" text-anchor="end">C1D15</text>
<rect x="345" y="503.7" width="131" height="110.3" fill="#e8e8e8" />
<rect x="407.9" y="503.7" width="1.9" height="110.3" fill="#fff" />
<text x="409" y="499" font-size="6.9" fill="#222" text-anchor="middle" font-weight="normal" >IFN-gamma</text>
<rect x="346.3" y="586.1" width="16.6" height="3.2" fill="#fff" />
<line x1="346.8" y1="587.7" x2="362.4" y2="587.7" stroke="#111" stroke-width="1" />
<rect x="349.2" y="586.3" width="10.8" height="2.8" fill="#24427f" rx="1.4"/>
<rect x="414.4" y="586.1" width="16.6" height="3.2" fill="#fff" />
<line x1="414.9" y1="587.7" x2="430.5" y2="587.7" stroke="#111" stroke-width="1" />
<rect x="417.3" y="586.3" width="10.8" height="2.8" fill="#c8117b" rx="1.4"/>
<line x1="375.65" y1="563.1" x2="375.65" y2="608.5" stroke="#000" stroke-width="1.1" />
<rect x="367.8" y="579.2" width="15.7" height="11.3" fill="#fff" stroke="#000" stroke-width="1.2"/>
<line x1="367.8" y1="583.9" x2="383.5" y2="583.9" stroke="#000" stroke-width="1.2" />
<line x1="396.05" y1="521.5" x2="396.05" y2="597.1" stroke="#000" stroke-width="1.1" />
<rect x="388.3" y="555.1" width="15.5" height="28.2" fill="#fff" stroke="#000" stroke-width="1.2"/>
<line x1="388.3" y1="574.4" x2="403.8" y2="574.4" stroke="#000" stroke-width="1.2" />
<line x1="443.05" y1="545.1" x2="443.05" y2="589.6" stroke="#000" stroke-width="1.1" />
<rect x="435.4" y="560.2" width="15.3" height="18" fill="#fff" stroke="#000" stroke-width="1.2"/>
<line x1="435.4" y1="571.6" x2="450.7" y2="571.6" stroke="#000" stroke-width="1.2" />
<line x1="463.55" y1="528.1" x2="463.55" y2="593.3" stroke="#000" stroke-width="1.1" />
<rect x="455.8" y="559.3" width="15.5" height="27" fill="#fff" stroke="#000" stroke-width="1.2"/>
<line x1="455.8" y1="572.5" x2="471.3" y2="572.5" stroke="#000" stroke-width="1.2" />
<circle cx="378.79" cy="551.36" r="1.5" fill="#24427f"/>
<circle cx="371.99" cy="558.92" r="1.5" fill="#24427f"/>
<circle cx="374.44" cy="560.25" r="1.5" fill="#24427f"/>
<circle cx="375.39" cy="562.14" r="1.5" fill="#24427f"/>
<circle cx="373.12" cy="564.98" r="1.5" fill="#24427f"/>
<circle cx="371.61" cy="571.6" r="1.5" fill="#24427f"/>
<circle cx="376.34" cy="572.54" r="1.5" fill="#24427f"/>
<circle cx="374.44" cy="574.43" r="1.5" fill="#24427f"/>
<circle cx="370.66" cy="576.32" r="1.5" fill="#24427f"/>
<circle cx="377.28" cy="577.27" r="1.5" fill="#24427f"/>
<circle cx="372.55" cy="579.16" r="1.5" fill="#24427f"/>
<circle cx="379.17" cy="580.11" r="1.5" fill="#24427f"/>
<circle cx="373.5" cy="582" r="1.5" fill="#24427f"/>
<circle cx="376.34" cy="582.94" r="1.5" fill="#24427f"/>
<circle cx="371.61" cy="584.83" r="1.5" fill="#24427f"/>
<circle cx="378.23" cy="585.78" r="1.5" fill="#24427f"/>
<circle cx="374.44" cy="587.67" r="1.5" fill="#24427f"/>
<circle cx="369.72" cy="588.62" r="1.5" fill="#24427f"/>
<circle cx="377.28" cy="589.56" r="1.5" fill="#24427f"/>
<circle cx="372.55" cy="591.45" r="1.5" fill="#24427f"/>
<circle cx="375.39" cy="592.4" r="1.5" fill="#24427f"/>
<circle cx="370.66" cy="593.35" r="1.5" fill="#24427f"/>
<circle cx="379.17" cy="594.29" r="1.5" fill="#24427f"/>
<circle cx="374.44" cy="596.18" r="1.5" fill="#24427f"/>
<circle cx="371.61" cy="602.8" r="1.5" fill="#24427f"/>
<circle cx="376.34" cy="603.75" r="1.5" fill="#24427f"/>
<circle cx="375.39" cy="606.58" r="1.5" fill="#24427f"/>
<circle cx="374.44" cy="608.85" r="1.5" fill="#24427f"/>
<circle cx="376.73" cy="585.01" r="1.5" fill="#24427f"/>
<circle cx="371.55" cy="586.66" r="1.5" fill="#24427f"/>
<circle cx="378.23" cy="588.97" r="1.5" fill="#24427f"/>
<circle cx="378.39" cy="588.71" r="1.5" fill="#24427f"/>
<circle cx="374.72" cy="583.74" r="1.5" fill="#24427f"/>
<circle cx="376.89" cy="580.77" r="1.5" fill="#24427f"/>
<circle cx="371.67" cy="580.34" r="1.5" fill="#24427f"/>
<circle cx="372.54" cy="581.85" r="1.5" fill="#24427f"/>
<circle cx="371.53" cy="583.2" r="1.5" fill="#24427f"/>
<circle cx="372.44" cy="579.7" r="1.5" fill="#24427f"/>
<circle cx="374.4" cy="580.75" r="1.5" fill="#24427f"/>
<circle cx="379.09" cy="579.96" r="1.5" fill="#24427f"/>
<circle cx="395.25" cy="521.48" r="1.5" fill="#24427f"/>
<circle cx="397.14" cy="528.1" r="1.5" fill="#24427f"/>
<circle cx="396.19" cy="529.04" r="1.5" fill="#24427f"/>
<circle cx="395.25" cy="539.44" r="1.5" fill="#24427f"/>
<circle cx="393.36" cy="542.28" r="1.5" fill="#24427f"/>
<circle cx="398.09" cy="545.12" r="1.5" fill="#24427f"/>
<circle cx="392.41" cy="550.79" r="1.5" fill="#24427f"/>
<circle cx="395.25" cy="553.63" r="1.5" fill="#24427f"/>
<circle cx="398.09" cy="558.36" r="1.5" fill="#24427f"/>
<circle cx="394.3" cy="562.14" r="1.5" fill="#24427f"/>
<circle cx="391.47" cy="566.87" r="1.5" fill="#24427f"/>
<circle cx="397.14" cy="565.92" r="1.5" fill="#24427f"/>
<circle cx="394.3" cy="570.65" r="1.5" fill="#24427f"/>
<circle cx="396.19" cy="572.54" r="1.5" fill="#24427f"/>
<circle cx="393.36" cy="575.38" r="1.5" fill="#24427f"/>
<circle cx="399.03" cy="576.32" r="1.5" fill="#24427f"/>
<circle cx="392.41" cy="578.22" r="1.5" fill="#24427f"/>
<circle cx="397.14" cy="579.16" r="1.5" fill="#24427f"/>
<circle cx="394.3" cy="582" r="1.5" fill="#24427f"/>
<circle cx="398.09" cy="584.83" r="1.5" fill="#24427f"/>
<circle cx="392.41" cy="587.67" r="1.5" fill="#24427f"/>
<circle cx="395.25" cy="589.56" r="1.5" fill="#24427f"/>
<circle cx="393.36" cy="592.4" r="1.5" fill="#24427f"/>
<circle cx="395.25" cy="595.24" r="1.5" fill="#24427f"/>
<circle cx="394.3" cy="597.13" r="1.5" fill="#24427f"/>
<circle cx="392.82" cy="572.3" r="1.5" fill="#24427f"/>
<circle cx="394.65" cy="562.46" r="1.5" fill="#24427f"/>
<circle cx="392.58" cy="565.51" r="1.5" fill="#24427f"/>
<circle cx="400.59" cy="578.69" r="1.5" fill="#24427f"/>
<circle cx="395.9" cy="568.27" r="1.5" fill="#24427f"/>
<circle cx="392.39" cy="557.94" r="1.5" fill="#24427f"/>
<circle cx="393.89" cy="564.92" r="1.5" fill="#24427f"/>
<circle cx="392.94" cy="578.14" r="1.5" fill="#24427f"/>
<circle cx="445.39" cy="545.69" r="1.5" fill="#c8117b"/>
<circle cx="441.23" cy="548.9" r="1.5" fill="#c8117b"/>
<circle cx="445.39" cy="552.68" r="1.5" fill="#c8117b"/>
<circle cx="446.34" cy="556.47" r="1.5" fill="#c8117b"/>
<circle cx="438.77" cy="558.36" r="1.5" fill="#c8117b"/>
<circle cx="443.5" cy="560.25" r="1.5" fill="#c8117b"/>
<circle cx="442.55" cy="562.14" r="1.5" fill="#c8117b"/>
<circle cx="440.66" cy="564.98" r="1.5" fill="#c8117b"/>
<circle cx="445.39" cy="566.87" r="1.5" fill="#c8117b"/>
<circle cx="438.77" cy="568.76" r="1.5" fill="#c8117b"/>
<circle cx="444.44" cy="570.65" r="1.5" fill="#c8117b"/>
<circle cx="441.61" cy="572.54" r="1.5" fill="#c8117b"/>
<circle cx="446.34" cy="574.43" r="1.5" fill="#c8117b"/>
<circle cx="439.72" cy="576.32" r="1.5" fill="#c8117b"/>
<circle cx="445.39" cy="578.22" r="1.5" fill="#c8117b"/>
<circle cx="440.66" cy="583.89" r="1.5" fill="#c8117b"/>
<circle cx="440.66" cy="587.67" r="1.5" fill="#c8117b"/>
<circle cx="440.66" cy="589.56" r="1.5" fill="#c8117b"/>
<circle cx="439.34" cy="610.37" r="1.5" fill="#c8117b"/>
<circle cx="447.2" cy="561.09" r="1.5" fill="#c8117b"/>
<circle cx="439.8" cy="569.68" r="1.5" fill="#c8117b"/>
<circle cx="438.7" cy="569.93" r="1.5" fill="#c8117b"/>
<circle cx="447.45" cy="569.68" r="1.5" fill="#c8117b"/>
<circle cx="466.57" cy="528.66" r="1.5" fill="#c8117b"/>
<circle cx="465.63" cy="540.39" r="1.5" fill="#c8117b"/>
<circle cx="460.14" cy="548.52" r="1.5" fill="#c8117b"/>
<circle cx="464.68" cy="553.06" r="1.5" fill="#c8117b"/>
<circle cx="467.71" cy="555.9" r="1.5" fill="#c8117b"/>
<circle cx="460.9" cy="559.3" r="1.5" fill="#c8117b"/>
<circle cx="466.19" cy="566.87" r="1.5" fill="#c8117b"/>
<circle cx="465.25" cy="569.7" r="1.5" fill="#c8117b"/>
<circle cx="462.41" cy="572.54" r="1.5" fill="#c8117b"/>
<circle cx="464.3" cy="575.38" r="1.5" fill="#c8117b"/>
<circle cx="461.47" cy="578.22" r="1.5" fill="#c8117b"/>
<circle cx="465.25" cy="579.16" r="1.5" fill="#c8117b"/>
<circle cx="460.52" cy="585.78" r="1.5" fill="#c8117b"/>
<circle cx="464.3" cy="587.67" r="1.5" fill="#c8117b"/>
<circle cx="466.19" cy="590.51" r="1.5" fill="#c8117b"/>
<circle cx="462.41" cy="593.35" r="1.5" fill="#c8117b"/>
<circle cx="467.14" cy="591.45" r="1.5" fill="#c8117b"/>
<circle cx="465.36" cy="582.25" r="1.5" fill="#c8117b"/>
<circle cx="462.32" cy="566.59" r="1.5" fill="#c8117b"/>
<circle cx="466.05" cy="564.14" r="1.5" fill="#c8117b"/>
<circle cx="466.12" cy="573.65" r="1.5" fill="#c8117b"/>
<line x1="343.1" y1="503.7" x2="343.1" y2="615.6" stroke="#000" stroke-width="1.5" />
<line x1="342.35" y1="615.6" x2="476" y2="615.6" stroke="#000" stroke-width="1.4" />
<line x1="339.9" y1="614.61" x2="343.1" y2="614.61" stroke="#000" stroke-width="1" />
<text x="336.9" y="616.11" font-size="4.5" fill="#333" text-anchor="end" font-weight="normal" >-3</text>
<line x1="339.9" y1="587.7" x2="343.1" y2="587.7" stroke="#000" stroke-width="1" />
<text x="336.9" y="589.2" font-size="4.5" fill="#333" text-anchor="end" font-weight="normal" >0</text>
<line x1="339.9" y1="560.79" x2="343.1" y2="560.79" stroke="#000" stroke-width="1" />
<text x="336.9" y="562.29" font-size="4.5" fill="#333" text-anchor="end" font-weight="normal" >3</text>
<line x1="339.9" y1="533.88" x2="343.1" y2="533.88" stroke="#000" stroke-width="1" />
<text x="336.9" y="535.38" font-size="4.5" fill="#333" text-anchor="end" font-weight="normal" >6</text>
<line x1="339.9" y1="506.97" x2="343.1" y2="506.97" stroke="#000" stroke-width="1" />
<text x="336.9" y="508.47" font-size="4.5" fill="#333" text-anchor="end" font-weight="normal" >9</text>
<line x1="354.6" y1="615.6" x2="354.6" y2="618.9" stroke="#000" stroke-width="1.1" />
<text transform="translate(357.7 624.4) rotate(-45)" font-size="4.5" fill="#222" text-anchor="end">C1D1</text>
<line x1="375.4" y1="615.6" x2="375.4" y2="618.9" stroke="#000" stroke-width="1.1" />
<text transform="translate(378.5 624.4) rotate(-45)" font-size="4.5" fill="#222" text-anchor="end">C1D8</text>
<line x1="395.8" y1="615.6" x2="395.8" y2="618.9" stroke="#000" stroke-width="1.1" />
<text transform="translate(398.9 624.4) rotate(-45)" font-size="4.5" fill="#222" text-anchor="end">C1D15</text>
<line x1="422.7" y1="615.6" x2="422.7" y2="618.9" stroke="#000" stroke-width="1.1" />
<text transform="translate(425.8 624.4) rotate(-45)" font-size="4.5" fill="#222" text-anchor="end">C1D1</text>
<line x1="442.6" y1="615.6" x2="442.6" y2="618.9" stroke="#000" stroke-width="1.1" />
<text transform="translate(445.7 624.4) rotate(-45)" font-size="4.5" fill="#222" text-anchor="end">C1D8</text>
<line x1="463.4" y1="615.6" x2="463.4" y2="618.9" stroke="#000" stroke-width="1.1" />
<text transform="translate(466.5 624.4) rotate(-45)" font-size="4.5" fill="#222" text-anchor="end">C1D15</text>
<text transform="translate(20.8 559.7) rotate(-90)" font-size="5.5" fill="#222" text-anchor="middle">Log2(ratio)</text>
<text x="250.8" y="650.4" font-size="7.0" fill="#222" text-anchor="middle" font-weight="normal" textLength="10.8" lengthAdjust="spacingAndGlyphs">Visit</text>
<rect x="35" y="642.3" width="118.2" height="11.5" fill="#e6e6e6" />
<circle cx="42.1" cy="647.8" r="1.6" fill="#24427f"/>
<circle cx="120.3" cy="648" r="1.6" fill="#c8117b"/>
<text x="45.9" y="649.4" font-size="4.5" fill="#333" text-anchor="start" font-weight="normal" >Parts 1 and 2</text>
<text x="124.3" y="649.6" font-size="4.5" fill="#333" text-anchor="start" font-weight="normal" >Part 3</text>
<rect x="0" y="0" width="520" height="1.1" fill="#000" />
<rect x="0" y="0" width="1.1" height="661" fill="#000" />
<rect x="518.45" y="0" width="1.55" height="661" fill="#000" />
<rect x="0" y="659.45" width="520" height="1.55" fill="#000" />
</svg>
</body></html>
